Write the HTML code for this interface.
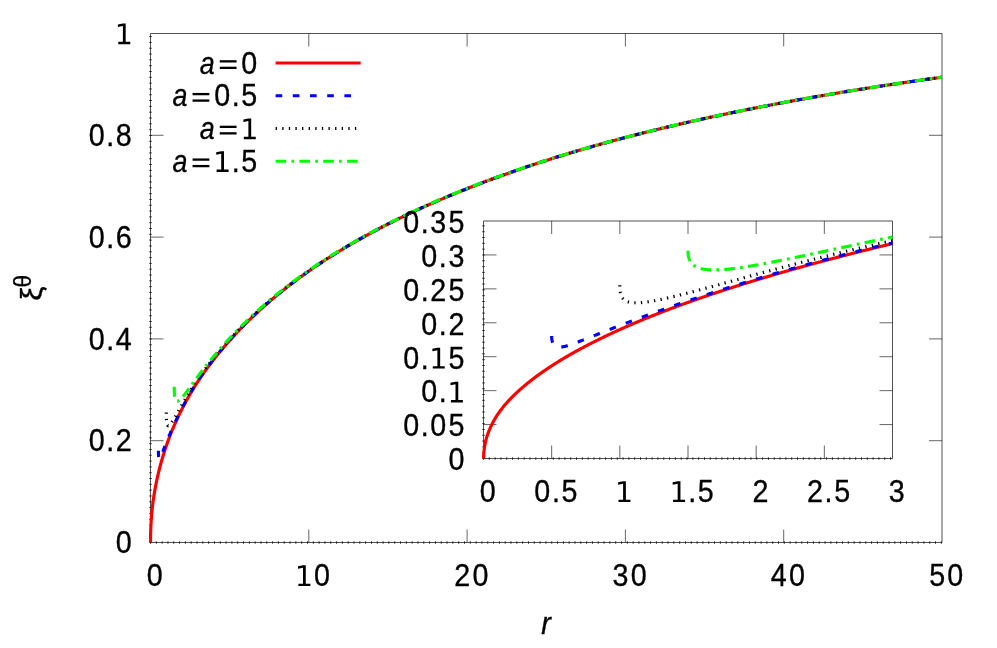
<!DOCTYPE html>
<html><head><meta charset="utf-8"><title>plot</title>
<style>html,body{margin:0;padding:0;background:#fff;}body{width:997px;height:648px;overflow:hidden;font-family:"Liberation Sans",sans-serif;}svg{display:block}</style>
</head><body>
<svg width="997" height="648" viewBox="0 0 997 648">
<rect width="997" height="648" fill="#fff"/>
<path d="M150.5,33.5 L942.0,33.5 L942.0,542.5 L150.5,542.5 Z" fill="none" stroke="#000" stroke-width="1" opacity="0.68"/>
<path d="M308.80,542.5 v-13 M308.80,33.5 v13 M467.10,542.5 v-13 M467.10,33.5 v13 M625.40,542.5 v-13 M625.40,33.5 v13 M783.70,542.5 v-13 M783.70,33.5 v13 M150.5,440.70 h13 M942.0,440.70 h-13 M150.5,338.90 h13 M942.0,338.90 h-13 M150.5,237.10 h13 M942.0,237.10 h-13 M150.5,135.30 h13 M942.0,135.30 h-13 " stroke="#000" stroke-width="1" fill="none" opacity="0.6"/>
<path d="M150.50,541.1 v2.8 M156.31,541.1 v2.8 M162.13,541.1 v2.8 M167.94,541.1 v2.8 M173.76,541.1 v2.8 M179.57,541.1 v2.8 M185.39,541.1 v2.8 M191.20,541.1 v2.8 M197.02,541.1 v2.8 M202.83,541.1 v2.8 M208.65,541.1 v2.8 M214.46,541.1 v2.8 M220.28,541.1 v2.8 M226.09,541.1 v2.8 M231.91,541.1 v2.8 M237.72,541.1 v2.8 M243.54,541.1 v2.8 M249.35,541.1 v2.8 M255.17,541.1 v2.8 M260.98,541.1 v2.8 M266.80,541.1 v2.8 M272.61,541.1 v2.8 M278.43,541.1 v2.8 M284.24,541.1 v2.8 M290.06,541.1 v2.8 M295.87,541.1 v2.8 M301.69,541.1 v2.8 M307.50,541.1 v2.8 M313.32,541.1 v2.8 M319.13,541.1 v2.8 M324.95,541.1 v2.8 M330.76,541.1 v2.8 M336.58,541.1 v2.8 M342.39,541.1 v2.8 M348.21,541.1 v2.8 M354.02,541.1 v2.8 M359.84,541.1 v2.8 M365.65,541.1 v2.8 M371.47,541.1 v2.8 M377.28,541.1 v2.8 M383.10,541.1 v2.8 M388.91,541.1 v2.8 M394.73,541.1 v2.8 M400.54,541.1 v2.8 M406.36,541.1 v2.8 M412.17,541.1 v2.8 M417.99,541.1 v2.8 M423.80,541.1 v2.8 M429.62,541.1 v2.8 M435.43,541.1 v2.8 M441.25,541.1 v2.8 M447.06,541.1 v2.8 M452.88,541.1 v2.8 M458.69,541.1 v2.8 M464.51,541.1 v2.8 M470.32,541.1 v2.8 M476.14,541.1 v2.8 M481.95,541.1 v2.8 M487.77,541.1 v2.8 M493.58,541.1 v2.8 M499.40,541.1 v2.8 M505.21,541.1 v2.8 M511.03,541.1 v2.8 M516.84,541.1 v2.8 M522.66,541.1 v2.8 M528.48,541.1 v2.8 M534.29,541.1 v2.8 M540.11,541.1 v2.8 M545.92,541.1 v2.8 M551.74,541.1 v2.8 M557.55,541.1 v2.8 M563.37,541.1 v2.8 M569.18,541.1 v2.8 M575.00,541.1 v2.8 M580.81,541.1 v2.8 M586.63,541.1 v2.8 M592.44,541.1 v2.8 M598.26,541.1 v2.8 M604.07,541.1 v2.8 M609.89,541.1 v2.8 M615.70,541.1 v2.8 M621.52,541.1 v2.8 M627.33,541.1 v2.8 M633.15,541.1 v2.8 M638.96,541.1 v2.8 M644.78,541.1 v2.8 M650.59,541.1 v2.8 M656.41,541.1 v2.8 M662.22,541.1 v2.8 M668.04,541.1 v2.8 M673.85,541.1 v2.8 M679.67,541.1 v2.8 M685.48,541.1 v2.8 M691.30,541.1 v2.8 M697.11,541.1 v2.8 M702.93,541.1 v2.8 M708.74,541.1 v2.8 M714.56,541.1 v2.8 M720.37,541.1 v2.8 M726.19,541.1 v2.8 M732.00,541.1 v2.8 M737.82,541.1 v2.8 M743.63,541.1 v2.8 M749.45,541.1 v2.8 M755.26,541.1 v2.8 M761.08,541.1 v2.8 M766.89,541.1 v2.8 M772.71,541.1 v2.8 M778.52,541.1 v2.8 M784.34,541.1 v2.8 M790.15,541.1 v2.8 M795.97,541.1 v2.8 M801.78,541.1 v2.8 M807.60,541.1 v2.8 M813.41,541.1 v2.8 M819.23,541.1 v2.8 M825.04,541.1 v2.8 M830.86,541.1 v2.8 M836.67,541.1 v2.8 M842.49,541.1 v2.8 M848.30,541.1 v2.8 M854.12,541.1 v2.8 M859.93,541.1 v2.8 M865.75,541.1 v2.8 M871.56,541.1 v2.8 M877.38,541.1 v2.8 M883.19,541.1 v2.8 M889.01,541.1 v2.8 M894.82,541.1 v2.8 M900.64,541.1 v2.8 M906.45,541.1 v2.8 M912.27,541.1 v2.8 M918.08,541.1 v2.8 M923.90,541.1 v2.8 M929.71,541.1 v2.8 M935.53,541.1 v2.8 M941.34,541.1 v2.8 M149.1,542.50 h2.8 M149.1,536.68 h2.8 M149.1,530.87 h2.8 M149.1,525.05 h2.8 M149.1,519.24 h2.8 M149.1,513.42 h2.8 M149.1,507.61 h2.8 M149.1,501.79 h2.8 M149.1,495.98 h2.8 M149.1,490.16 h2.8 M149.1,484.35 h2.8 M149.1,478.53 h2.8 M149.1,472.72 h2.8 M149.1,466.90 h2.8 M149.1,461.09 h2.8 M149.1,455.27 h2.8 M149.1,449.46 h2.8 M149.1,443.64 h2.8 M149.1,437.83 h2.8 M149.1,432.01 h2.8 M149.1,426.20 h2.8 M149.1,420.38 h2.8 M149.1,414.57 h2.8 M149.1,408.75 h2.8 M149.1,402.94 h2.8 M149.1,397.12 h2.8 M149.1,391.31 h2.8 M149.1,385.49 h2.8 M149.1,379.68 h2.8 M149.1,373.86 h2.8 M149.1,368.05 h2.8 M149.1,362.23 h2.8 M149.1,356.42 h2.8 M149.1,350.60 h2.8 M149.1,344.79 h2.8 M149.1,338.97 h2.8 M149.1,333.16 h2.8 M149.1,327.34 h2.8 M149.1,321.53 h2.8 M149.1,315.71 h2.8 M149.1,309.90 h2.8 M149.1,304.08 h2.8 M149.1,298.27 h2.8 M149.1,292.45 h2.8 M149.1,286.64 h2.8 M149.1,280.82 h2.8 M149.1,275.01 h2.8 M149.1,269.19 h2.8 M149.1,263.38 h2.8 M149.1,257.56 h2.8 M149.1,251.75 h2.8 M149.1,245.93 h2.8 M149.1,240.12 h2.8 M149.1,234.30 h2.8 M149.1,228.49 h2.8 M149.1,222.67 h2.8 M149.1,216.86 h2.8 M149.1,211.04 h2.8 M149.1,205.23 h2.8 M149.1,199.41 h2.8 M149.1,193.60 h2.8 M149.1,187.78 h2.8 M149.1,181.97 h2.8 M149.1,176.15 h2.8 M149.1,170.34 h2.8 M149.1,164.52 h2.8 M149.1,158.71 h2.8 M149.1,152.89 h2.8 M149.1,147.08 h2.8 M149.1,141.26 h2.8 M149.1,135.45 h2.8 M149.1,129.63 h2.8 M149.1,123.82 h2.8 M149.1,118.00 h2.8 M149.1,112.19 h2.8 M149.1,106.37 h2.8 M149.1,100.56 h2.8 M149.1,94.74 h2.8 M149.1,88.93 h2.8 M149.1,83.11 h2.8 M149.1,77.30 h2.8 M149.1,71.48 h2.8 M149.1,65.67 h2.8 M149.1,59.85 h2.8 M149.1,54.04 h2.8 M149.1,48.22 h2.8 M149.1,42.41 h2.8 M149.1,36.59 h2.8 " stroke="#000" stroke-width="1" fill="none" opacity="0.68"/>
<g font-family="Liberation Sans, sans-serif" fill="#000" stroke="#000" stroke-width="0.35" style="filter:grayscale(1)">
<text transform="translate(115.87,553.20) scale(0.94,1)" font-size="30.5">0</text>
<text transform="translate(88.68,451.40) scale(0.94,1)" font-size="30.5">0</text><text transform="translate(106.26,451.40) scale(0.94,1)" font-size="30.5">.</text><text transform="translate(115.87,451.40) scale(0.94,1)" font-size="30.5">2</text>
<text transform="translate(88.68,349.60) scale(0.94,1)" font-size="30.5">0</text><text transform="translate(106.26,349.60) scale(0.94,1)" font-size="30.5">.</text><text transform="translate(115.87,349.60) scale(0.94,1)" font-size="30.5">4</text>
<text transform="translate(88.68,247.80) scale(0.94,1)" font-size="30.5">0</text><text transform="translate(106.26,247.80) scale(0.94,1)" font-size="30.5">.</text><text transform="translate(115.87,247.80) scale(0.94,1)" font-size="30.5">6</text>
<text transform="translate(88.68,146.00) scale(0.94,1)" font-size="30.5">0</text><text transform="translate(106.26,146.00) scale(0.94,1)" font-size="30.5">.</text><text transform="translate(115.87,146.00) scale(0.94,1)" font-size="30.5">8</text>
<path transform="translate(114.77,44.20) scale(0.01392,-0.01392)" d="M254 170h330v1139l-359 -72v184l357 72h202v-1323h330v-170h-860v170z" stroke="none"/>
<text transform="translate(146.73,586.00) scale(0.94,1)" font-size="30.5">0</text>
<path transform="translate(294.87,586.00) scale(0.01392,-0.01392)" d="M254 170h330v1139l-359 -72v184l357 72h202v-1323h330v-170h-860v170z" stroke="none"/><text transform="translate(314.09,586.00) scale(0.94,1)" font-size="30.5">0</text>
<text transform="translate(454.27,586.00) scale(0.94,1)" font-size="30.5">2</text><text transform="translate(472.39,586.00) scale(0.94,1)" font-size="30.5">0</text>
<text transform="translate(612.57,586.00) scale(0.94,1)" font-size="30.5">3</text><text transform="translate(630.69,586.00) scale(0.94,1)" font-size="30.5">0</text>
<text transform="translate(770.87,586.00) scale(0.94,1)" font-size="30.5">4</text><text transform="translate(788.99,586.00) scale(0.94,1)" font-size="30.5">0</text>
<text transform="translate(929.17,586.00) scale(0.94,1)" font-size="30.5">5</text><text transform="translate(947.29,586.00) scale(0.94,1)" font-size="30.5">0</text>
<text transform="translate(547.00,634.00) scale(0.94,1)" text-anchor="middle" font-size="30.5" letter-spacing="2.33" font-style="italic">r</text>
</g>
<path d="M150.50,542.50 L150.51,541.74 L150.51,540.92 L150.52,540.04 L150.53,539.16 L150.54,538.28 L150.56,537.39 L150.57,536.52 L150.58,535.66 L150.60,534.81 L150.62,533.96 L150.64,533.13 L150.66,532.31 L150.69,531.50 L150.71,530.70 L150.74,529.91 L150.77,529.12 L150.80,528.35 L150.83,527.58 L150.86,526.82 L150.90,526.09 L150.93,525.36 L150.97,524.64 L151.01,523.92 L151.05,523.21 L151.09,522.49 L151.14,521.77 L151.18,521.05 L151.23,520.33 L151.28,519.60 L151.33,518.87 L151.38,518.14 L151.43,517.42 L151.49,516.70 L151.55,515.98 L151.60,515.27 L151.66,514.55 L151.73,513.85 L151.79,513.14 L151.85,512.43 L151.92,511.73 L151.99,511.03 L152.06,510.34 L152.13,509.64 L152.20,508.95 L152.27,508.26 L152.35,507.57 L152.43,506.88 L152.51,506.19 L152.59,505.50 L152.67,504.82 L152.75,504.14 L152.84,503.46 L152.93,502.78 L153.01,502.10 L153.10,501.42 L153.20,500.74 L153.29,500.07 L153.38,499.39 L153.48,498.72 L153.58,498.05 L153.68,497.38 L153.78,496.71 L153.88,496.04 L153.99,495.37 L154.09,494.70 L154.20,494.03 L154.31,493.37 L154.42,492.70 L154.53,492.03 L154.64,491.37 L154.76,490.71 L154.88,490.04 L154.99,489.38 L155.11,488.72 L155.24,488.06 L155.36,487.40 L155.48,486.73 L155.61,486.07 L155.74,485.41 L155.87,484.74 L156.00,484.08 L156.13,483.41 L156.27,482.75 L156.40,482.08 L156.54,481.42 L156.68,480.75 L156.82,480.09 L156.96,479.42 L157.11,478.76 L157.25,478.09 L157.40,477.42 L157.55,476.76 L157.70,476.09 L157.85,475.43 L158.00,474.76 L158.16,474.10 L158.32,473.43 L158.47,472.77 L158.63,472.10 L158.79,471.44 L158.96,470.78 L159.12,470.11 L159.29,469.45 L159.46,468.79 L159.62,468.13 L159.80,467.46 L159.97,466.80 L160.14,466.14 L160.32,465.48 L160.49,464.82 L160.67,464.16 L160.85,463.50 L161.04,462.84 L161.22,462.19 L161.40,461.53 L161.59,460.87 L161.78,460.22 L161.97,459.56 L162.16,458.90 L162.35,458.25 L162.55,457.60 L162.74,456.94 L162.94,456.29 L163.14,455.63 L163.34,454.98 L163.54,454.32 L163.75,453.67 L163.95,453.01 L164.16,452.36 L164.37,451.70 L164.58,451.05 L164.79,450.39 L165.01,449.74 L165.22,449.08 L165.44,448.43 L165.66,447.78 L165.88,447.12 L166.10,446.47 L166.32,445.82 L166.55,445.17 L166.77,444.52 L167.00,443.86 L167.23,443.21 L167.46,442.57 L167.69,441.92 L167.93,441.27 L168.16,440.62 L168.40,439.97 L168.64,439.33 L168.88,438.68 L169.12,438.03 L169.37,437.39 L169.61,436.75 L169.86,436.10 L170.11,435.46 L170.36,434.82 L170.61,434.18 L170.86,433.54 L171.12,432.90 L171.37,432.26 L171.63,431.62 L171.89,430.99 L172.15,430.35 L172.41,429.72 L172.68,429.08 L172.94,428.45 L173.21,427.82 L173.48,427.18 L173.75,426.55 L174.02,425.92 L174.30,425.29 L174.57,424.66 L174.85,424.02 L175.13,423.39 L175.41,422.76 L175.69,422.13 L175.97,421.51 L176.26,420.88 L176.54,420.25 L176.83,419.62 L177.12,418.99 L177.41,418.37 L177.70,417.74 L178.00,417.11 L178.30,416.49 L178.59,415.86 L178.89,415.24 L179.19,414.61 L179.49,413.99 L179.80,413.36 L180.10,412.74 L180.41,412.12 L180.72,411.50 L181.03,410.87 L181.34,410.25 L181.66,409.63 L181.97,409.01 L182.29,408.39 L182.60,407.77 L182.92,407.15 L183.25,406.54 L183.57,405.92 L183.89,405.30 L184.22,404.68 L184.55,404.07 L184.88,403.45 L185.21,402.84 L185.54,402.22 L185.87,401.61 L186.21,400.99 L186.55,400.38 L186.88,399.76 L187.23,399.15 L187.57,398.54 L187.91,397.93 L188.26,397.32 L188.60,396.71 L188.95,396.10 L189.30,395.49 L189.65,394.88 L190.00,394.27 L190.36,393.66 L190.72,393.05 L191.07,392.45 L191.43,391.84 L191.79,391.23 L192.16,390.63 L192.52,390.02 L192.89,389.42 L193.25,388.81 L193.62,388.21 L193.99,387.61 L194.36,387.01 L194.74,386.40 L195.11,385.80 L195.49,385.21 L195.87,384.61 L196.25,384.01 L196.63,383.42 L197.01,382.82 L197.40,382.23 L197.78,381.63 L198.17,381.04 L198.56,380.45 L198.95,379.86 L199.34,379.27 L199.74,378.68 L200.13,378.09 L200.53,377.51 L200.93,376.92 L201.33,376.33 L201.73,375.75 L202.14,375.16 L202.54,374.58 L202.95,374.00 L203.36,373.42 L203.77,372.83 L204.18,372.25 L204.59,371.67 L205.01,371.09 L205.42,370.51 L205.84,369.94 L206.26,369.36 L206.68,368.78 L207.10,368.20 L207.53,367.63 L207.95,367.05 L208.38,366.48 L208.81,365.90 L209.24,365.33 L209.67,364.75 L210.11,364.18 L210.54,363.61 L210.98,363.03 L211.42,362.46 L211.86,361.89 L212.30,361.32 L212.74,360.75 L213.19,360.18 L213.63,359.60 L214.08,359.03 L214.53,358.46 L214.98,357.90 L215.44,357.33 L215.89,356.76 L216.35,356.19 L216.80,355.62 L217.26,355.05 L217.72,354.49 L218.19,353.92 L218.65,353.35 L219.12,352.78 L219.58,352.22 L220.05,351.65 L220.52,351.09 L220.99,350.52 L221.47,349.95 L221.94,349.39 L222.42,348.82 L222.90,348.26 L223.38,347.69 L223.86,347.13 L224.34,346.56 L224.82,346.00 L225.31,345.44 L225.80,344.87 L226.29,344.31 L226.78,343.75 L227.27,343.18 L227.76,342.62 L228.26,342.06 L228.76,341.49 L229.26,340.93 L229.76,340.37 L230.26,339.81 L230.76,339.24 L231.27,338.68 L231.77,338.12 L232.28,337.56 L232.79,337.00 L233.30,336.44 L233.82,335.88 L234.33,335.33 L234.85,334.77 L235.36,334.21 L235.88,333.65 L236.40,333.10 L236.93,332.54 L237.45,331.99 L237.98,331.43 L238.50,330.88 L239.03,330.32 L239.56,329.77 L240.09,329.22 L240.63,328.67 L241.16,328.11 L241.70,327.56 L242.24,327.01 L242.78,326.46 L243.32,325.91 L243.86,325.36 L244.41,324.81 L244.95,324.26 L245.50,323.72 L246.05,323.17 L246.60,322.62 L247.15,322.07 L247.71,321.53 L248.26,320.98 L248.82,320.44 L249.38,319.89 L249.94,319.35 L250.50,318.81 L251.07,318.26 L251.63,317.72 L252.20,317.18 L252.77,316.64 L253.34,316.10 L253.91,315.56 L254.48,315.02 L255.06,314.48 L255.63,313.94 L256.21,313.40 L256.79,312.86 L257.37,312.32 L257.95,311.79 L258.54,311.25 L259.12,310.71 L259.71,310.18 L260.30,309.64 L260.89,309.11 L261.48,308.57 L262.08,308.04 L262.67,307.51 L263.27,306.97 L263.87,306.44 L264.47,305.91 L265.07,305.38 L265.67,304.85 L266.28,304.32 L266.88,303.79 L267.49,303.26 L268.10,302.73 L268.71,302.20 L269.33,301.68 L269.94,301.15 L270.56,300.62 L271.17,300.10 L271.79,299.57 L272.41,299.05 L273.04,298.52 L273.66,298.00 L274.28,297.47 L274.91,296.95 L275.54,296.43 L276.17,295.91 L276.80,295.38 L277.44,294.86 L278.07,294.34 L278.71,293.82 L279.35,293.30 L279.99,292.78 L280.63,292.27 L281.27,291.75 L281.91,291.23 L282.56,290.71 L283.21,290.20 L283.86,289.68 L284.51,289.17 L285.16,288.65 L285.81,288.14 L286.47,287.63 L287.13,287.11 L287.78,286.60 L288.45,286.09 L289.11,285.58 L289.77,285.07 L290.44,284.56 L291.10,284.05 L291.77,283.54 L292.44,283.03 L293.11,282.52 L293.78,282.01 L294.46,281.50 L295.14,281.00 L295.81,280.49 L296.49,279.99 L297.17,279.48 L297.86,278.98 L298.54,278.47 L299.23,277.97 L299.91,277.47 L300.60,276.97 L301.29,276.46 L301.98,275.96 L302.68,275.46 L303.37,274.96 L304.07,274.46 L304.77,273.96 L305.47,273.47 L306.17,272.97 L306.87,272.47 L307.58,271.97 L308.28,271.48 L308.99,270.98 L309.70,270.49 L310.41,269.99 L311.12,269.50 L311.84,269.00 L312.55,268.51 L313.27,268.02 L313.99,267.53 L314.71,267.04 L315.43,266.54 L316.16,266.05 L316.88,265.56 L317.61,265.08 L318.34,264.59 L319.07,264.10 L319.80,263.61 L320.53,263.12 L321.27,262.64 L322.00,262.15 L322.74,261.67 L323.48,261.18 L324.22,260.70 L324.96,260.21 L325.71,259.73 L326.45,259.25 L327.20,258.77 L327.95,258.28 L328.70,257.80 L329.45,257.32 L330.21,256.84 L330.96,256.36 L331.72,255.89 L332.48,255.41 L333.24,254.93 L334.00,254.45 L334.76,253.98 L335.27,253.66 L335.78,253.34 L336.29,253.02 L336.80,252.71 L337.32,252.39 L337.83,252.07 L338.34,251.76 L338.86,251.44 L339.37,251.13 L339.89,250.81 L340.41,250.50 L340.92,250.18 L341.44,249.87 L341.96,249.55 L342.48,249.24 L343.00,248.93 L343.52,248.61 L344.04,248.30 L344.57,247.99 L345.09,247.67 L345.61,247.36 L346.14,247.05 L346.66,246.74 L347.19,246.42 L347.72,246.11 L348.24,245.80 L348.77,245.49 L349.30,245.18 L349.83,244.87 L350.36,244.56 L350.89,244.25 L351.42,243.94 L351.95,243.63 L352.49,243.32 L353.02,243.01 L353.55,242.70 L354.09,242.39 L354.63,242.09 L355.16,241.78 L355.70,241.47 L356.24,241.16 L356.78,240.85 L357.32,240.55 L357.86,240.24 L358.40,239.93 L358.94,239.63 L359.48,239.32 L360.02,239.01 L360.57,238.71 L361.11,238.40 L361.65,238.10 L362.20,237.79 L362.75,237.49 L363.29,237.18 L363.84,236.88 L364.39,236.58 L364.94,236.27 L365.49,235.97 L366.04,235.66 L366.59,235.36 L367.14,235.06 L367.70,234.76 L368.25,234.45 L368.80,234.15 L369.36,233.85 L369.91,233.55 L370.47,233.25 L371.03,232.95 L371.58,232.65 L372.14,232.34 L372.70,232.04 L373.26,231.74 L373.82,231.44 L374.38,231.15 L374.94,230.85 L375.51,230.55 L376.07,230.25 L376.63,229.95 L377.20,229.65 L377.76,229.35 L378.33,229.05 L378.90,228.76 L379.46,228.46 L380.03,228.16 L380.60,227.87 L381.17,227.57 L381.74,227.27 L382.31,226.98 L382.88,226.68 L383.46,226.38 L384.03,226.09 L384.60,225.79 L385.18,225.50 L385.75,225.20 L386.33,224.91 L386.90,224.61 L387.48,224.32 L388.06,224.03 L388.64,223.73 L389.22,223.44 L389.80,223.15 L390.38,222.85 L390.96,222.56 L391.54,222.27 L392.13,221.98 L392.71,221.69 L393.29,221.39 L393.88,221.10 L394.46,220.81 L395.05,220.52 L395.64,220.23 L396.23,219.94 L396.81,219.65 L397.40,219.36 L397.99,219.07 L398.58,218.78 L399.18,218.49 L399.77,218.20 L400.36,217.91 L400.95,217.63 L401.55,217.34 L402.14,217.05 L402.74,216.76 L403.34,216.47 L403.93,216.19 L404.53,215.90 L405.13,215.61 L405.73,215.33 L406.33,215.04 L406.93,214.75 L407.53,214.47 L408.13,214.18 L408.73,213.90 L409.34,213.61 L409.94,213.33 L410.55,213.04 L411.15,212.76 L411.76,212.47 L412.36,212.19 L412.97,211.91 L413.58,211.62 L414.19,211.34 L414.80,211.06 L415.41,210.78 L416.02,210.49 L416.63,210.21 L417.24,209.93 L417.86,209.65 L418.47,209.37 L419.09,209.08 L419.70,208.80 L420.32,208.52 L420.93,208.24 L421.55,207.96 L422.17,207.68 L422.79,207.40 L423.41,207.12 L424.03,206.84 L424.65,206.56 L425.27,206.29 L425.89,206.01 L426.52,205.73 L427.14,205.45 L427.76,205.17 L428.39,204.90 L429.02,204.62 L429.64,204.34 L430.27,204.06 L430.90,203.79 L431.53,203.51 L432.16,203.23 L432.79,202.96 L433.42,202.68 L434.05,202.41 L434.68,202.13 L435.31,201.86 L435.95,201.58 L436.58,201.31 L437.22,201.03 L437.85,200.76 L438.49,200.49 L439.13,200.21 L439.76,199.94 L440.40,199.67 L441.04,199.39 L441.68,199.12 L442.32,198.85 L442.96,198.57 L443.61,198.30 L444.25,198.03 L444.89,197.76 L445.54,197.49 L446.18,197.21 L446.83,196.94 L447.47,196.67 L448.12,196.40 L448.77,196.13 L449.42,195.86 L450.06,195.59 L450.71,195.32 L451.37,195.05 L452.02,194.78 L452.67,194.51 L453.32,194.24 L453.97,193.97 L454.63,193.70 L455.28,193.43 L455.94,193.16 L456.59,192.90 L457.25,192.63 L457.91,192.36 L458.57,192.09 L459.23,191.83 L459.89,191.56 L460.55,191.29 L461.21,191.02 L461.87,190.76 L462.53,190.49 L463.19,190.23 L463.86,189.96 L464.52,189.69 L465.19,189.43 L465.85,189.16 L466.52,188.90 L467.19,188.63 L467.86,188.37 L468.53,188.10 L469.20,187.84 L469.87,187.57 L470.54,187.31 L471.21,187.05 L471.88,186.78 L472.55,186.52 L473.23,186.26 L473.90,186.00 L474.58,185.73 L475.25,185.47 L475.93,185.21 L476.61,184.95 L477.28,184.68 L477.96,184.42 L478.64,184.16 L479.32,183.90 L480.00,183.64 L480.68,183.38 L481.37,183.12 L482.05,182.86 L482.73,182.60 L483.42,182.34 L484.10,182.08 L484.79,181.82 L485.48,181.56 L486.16,181.30 L486.85,181.04 L487.54,180.79 L488.23,180.53 L488.92,180.27 L489.61,180.01 L490.30,179.76 L490.99,179.50 L491.68,179.24 L492.38,178.98 L493.07,178.73 L493.77,178.47 L494.46,178.22 L495.16,177.96 L495.86,177.70 L496.55,177.45 L497.25,177.19 L497.95,176.94 L498.65,176.68 L499.35,176.43 L500.05,176.18 L500.75,175.92 L501.46,175.67 L502.16,175.41 L502.86,175.16 L503.57,174.91 L504.27,174.65 L504.98,174.40 L505.69,174.15 L506.40,173.90 L507.10,173.65 L507.81,173.39 L508.52,173.14 L509.23,172.89 L509.94,172.64 L510.66,172.39 L511.37,172.14 L512.08,171.89 L512.79,171.64 L513.51,171.39 L514.22,171.14 L514.94,170.89 L515.66,170.64 L516.37,170.39 L517.09,170.14 L517.81,169.89 L518.53,169.65 L519.25,169.40 L519.97,169.15 L520.69,168.90 L521.42,168.66 L522.14,168.41 L522.86,168.16 L523.59,167.92 L524.31,167.67 L525.04,167.42 L525.77,167.18 L526.49,166.93 L527.22,166.69 L527.95,166.44 L528.68,166.20 L529.41,165.95 L530.14,165.71 L530.87,165.46 L531.60,165.22 L532.34,164.98 L533.07,164.73 L533.80,164.49 L534.54,164.25 L535.27,164.00 L536.01,163.76 L536.75,163.52 L537.49,163.28 L538.22,163.04 L538.96,162.79 L539.70,162.55 L540.44,162.31 L541.19,162.07 L541.93,161.83 L542.67,161.59 L543.41,161.35 L544.16,161.11 L544.90,160.87 L545.65,160.63 L546.39,160.39 L547.14,160.15 L547.89,159.92 L548.64,159.68 L549.39,159.44 L550.14,159.20 L550.89,158.96 L551.64,158.73 L552.39,158.49 L553.14,158.25 L553.90,158.02 L554.65,157.78 L555.40,157.54 L556.16,157.31 L556.92,157.07 L557.67,156.84 L558.43,156.60 L559.19,156.37 L559.95,156.13 L560.71,155.90 L561.47,155.66 L562.23,155.43 L562.99,155.20 L563.75,154.96 L564.52,154.73 L565.28,154.50 L566.04,154.26 L566.81,154.03 L567.58,153.80 L568.34,153.57 L569.11,153.33 L569.88,153.10 L570.65,152.87 L571.42,152.64 L572.19,152.41 L572.96,152.18 L573.73,151.95 L574.50,151.72 L575.27,151.49 L576.05,151.26 L576.82,151.03 L577.60,150.80 L578.37,150.57 L579.15,150.34 L579.93,150.12 L580.71,149.89 L581.48,149.66 L582.26,149.43 L583.04,149.21 L583.82,148.98 L584.61,148.75 L585.39,148.53 L586.17,148.30 L586.95,148.07 L587.74,147.85 L588.52,147.62 L589.31,147.40 L590.10,147.17 L590.88,146.95 L591.67,146.72 L592.46,146.50 L593.25,146.27 L594.04,146.05 L594.83,145.83 L595.62,145.60 L596.41,145.38 L597.20,145.16 L598.00,144.93 L598.79,144.71 L599.59,144.49 L600.38,144.27 L601.18,144.05 L601.98,143.83 L602.77,143.60 L603.57,143.38 L604.37,143.16 L605.17,142.94 L605.97,142.72 L606.77,142.50 L607.57,142.28 L608.38,142.06 L609.18,141.84 L609.98,141.63 L610.79,141.41 L611.59,141.19 L612.40,140.97 L613.21,140.75 L614.01,140.54 L614.82,140.32 L615.63,140.10 L616.44,139.88 L617.25,139.67 L618.06,139.45 L618.87,139.24 L619.69,139.02 L620.50,138.80 L621.31,138.59 L622.13,138.37 L622.94,138.16 L623.76,137.94 L624.58,137.73 L625.39,137.52 L626.21,137.30 L627.03,137.09 L627.85,136.88 L628.67,136.66 L629.49,136.45 L630.31,136.24 L631.14,136.02 L631.96,135.81 L632.78,135.60 L633.61,135.39 L634.43,135.18 L635.26,134.96 L636.08,134.75 L636.91,134.54 L637.74,134.33 L638.57,134.12 L639.40,133.91 L640.23,133.70 L641.06,133.49 L641.89,133.28 L642.72,133.07 L643.55,132.86 L644.39,132.65 L645.22,132.44 L646.06,132.24 L646.89,132.03 L647.73,131.82 L648.57,131.61 L649.40,131.40 L650.24,131.20 L651.08,130.99 L651.92,130.78 L652.76,130.58 L653.60,130.37 L654.45,130.16 L655.29,129.96 L656.13,129.75 L656.98,129.54 L657.82,129.34 L658.67,129.13 L659.51,128.93 L660.36,128.72 L661.21,128.52 L662.06,128.31 L662.90,128.11 L663.75,127.91 L664.60,127.70 L665.46,127.50 L666.31,127.30 L667.16,127.09 L668.01,126.89 L668.87,126.69 L669.72,126.48 L670.58,126.28 L671.43,126.08 L672.29,125.88 L673.15,125.68 L674.01,125.47 L674.86,125.27 L675.72,125.07 L676.58,124.87 L677.45,124.67 L678.31,124.47 L679.17,124.27 L680.03,124.07 L680.90,123.87 L681.76,123.67 L682.63,123.47 L683.49,123.27 L684.36,123.07 L685.23,122.88 L686.09,122.68 L686.96,122.48 L687.83,122.28 L688.70,122.08 L689.57,121.89 L690.45,121.69 L691.32,121.49 L692.19,121.29 L693.06,121.10 L693.94,120.90 L694.81,120.71 L695.69,120.51 L696.57,120.31 L697.44,120.12 L698.32,119.92 L699.20,119.73 L700.08,119.53 L700.96,119.34 L701.84,119.14 L702.72,118.95 L703.60,118.75 L704.49,118.56 L705.37,118.37 L706.25,118.17 L707.14,117.98 L708.03,117.79 L708.91,117.59 L709.80,117.40 L710.69,117.21 L711.57,117.02 L712.46,116.82 L713.35,116.63 L714.24,116.44 L715.14,116.25 L716.03,116.06 L716.92,115.87 L717.81,115.68 L718.71,115.49 L719.60,115.30 L720.50,115.11 L721.39,114.92 L722.29,114.73 L723.19,114.54 L724.09,114.35 L724.99,114.16 L725.89,113.97 L726.79,113.78 L727.69,113.59 L728.59,113.40 L729.49,113.22 L730.40,113.03 L731.30,112.84 L732.20,112.65 L733.11,112.47 L734.02,112.28 L734.92,112.09 L735.83,111.91 L736.74,111.72 L737.65,111.53 L738.56,111.35 L739.47,111.16 L740.38,110.98 L741.29,110.79 L742.20,110.61 L743.12,110.42 L744.03,110.24 L744.94,110.05 L745.86,109.87 L746.77,109.68 L747.69,109.50 L748.61,109.32 L749.53,109.13 L750.45,108.95 L751.36,108.77 L752.29,108.58 L753.21,108.40 L754.13,108.22 L755.05,108.04 L755.97,107.85 L756.90,107.67 L757.82,107.49 L758.75,107.31 L759.67,107.13 L760.60,106.95 L761.53,106.77 L762.45,106.59 L763.38,106.41 L764.31,106.23 L765.24,106.05 L766.17,105.87 L767.10,105.69 L768.04,105.51 L768.97,105.33 L769.90,105.15 L770.84,104.97 L771.77,104.79 L772.71,104.61 L773.64,104.44 L774.58,104.26 L775.52,104.08 L776.46,103.90 L777.40,103.73 L778.34,103.55 L779.28,103.37 L780.22,103.19 L781.16,103.02 L782.10,102.84 L783.05,102.67 L783.99,102.49 L784.93,102.31 L785.88,102.14 L786.83,101.96 L787.77,101.79 L788.72,101.61 L789.67,101.44 L790.62,101.27 L791.57,101.09 L792.52,100.92 L793.47,100.74 L794.42,100.57 L795.37,100.40 L796.33,100.22 L797.28,100.05 L798.24,99.88 L799.19,99.71 L800.15,99.53 L801.10,99.36 L802.06,99.19 L803.02,99.02 L803.98,98.85 L804.94,98.67 L805.90,98.50 L806.86,98.33 L807.82,98.16 L808.78,97.99 L809.75,97.82 L810.71,97.65 L811.67,97.48 L812.64,97.31 L813.61,97.14 L814.57,96.97 L815.54,96.80 L816.51,96.63 L817.48,96.47 L818.45,96.30 L819.42,96.13 L820.39,95.96 L821.36,95.79 L822.33,95.62 L823.30,95.46 L824.28,95.29 L825.25,95.12 L826.23,94.96 L827.20,94.79 L828.18,94.62 L829.16,94.46 L830.13,94.29 L831.11,94.12 L832.09,93.96 L833.07,93.79 L834.05,93.63 L835.03,93.46 L836.02,93.30 L837.00,93.13 L837.98,92.97 L838.97,92.80 L839.95,92.64 L840.94,92.48 L841.92,92.31 L842.91,92.15 L843.90,91.99 L844.89,91.82 L845.88,91.66 L846.87,91.50 L847.86,91.33 L848.85,91.17 L849.84,91.01 L850.83,90.85 L851.83,90.69 L852.82,90.52 L853.81,90.36 L854.81,90.20 L855.81,90.04 L856.80,89.88 L857.80,89.72 L858.80,89.56 L859.80,89.40 L860.80,89.24 L861.80,89.08 L862.80,88.92 L863.80,88.76 L864.80,88.60 L865.81,88.44 L866.81,88.28 L867.82,88.13 L868.82,87.97 L869.83,87.81 L870.83,87.65 L871.84,87.49 L872.85,87.33 L873.86,87.18 L874.87,87.02 L875.88,86.86 L876.89,86.71 L877.90,86.55 L878.91,86.39 L879.93,86.24 L880.94,86.08 L881.95,85.93 L882.97,85.77 L883.99,85.61 L885.00,85.46 L886.02,85.30 L887.04,85.15 L888.06,84.99 L889.08,84.84 L890.10,84.69 L891.12,84.53 L892.14,84.38 L893.16,84.22 L894.18,84.07 L895.21,83.92 L896.23,83.76 L897.26,83.61 L898.28,83.46 L899.31,83.30 L900.34,83.15 L901.36,83.00 L902.39,82.85 L903.42,82.70 L904.45,82.54 L905.48,82.39 L906.51,82.24 L907.55,82.09 L908.58,81.94 L909.61,81.79 L910.65,81.64 L911.68,81.49 L912.72,81.34 L913.75,81.19 L914.79,81.04 L915.83,80.89 L916.87,80.74 L917.91,80.59 L918.95,80.44 L919.99,80.29 L921.03,80.14 L922.07,80.00 L923.11,79.85 L924.16,79.70 L925.20,79.55 L926.24,79.40 L927.29,79.26 L928.34,79.11 L929.38,78.96 L930.43,78.82 L931.48,78.67 L932.53,78.52 L933.58,78.38 L934.63,78.23 L935.68,78.08 L936.73,77.94 L937.78,77.79 L938.84,77.65 L939.89,77.50 L940.94,77.36 L942.00,77.21" stroke="#ff0000" stroke-width="3.15" fill="none" stroke-linejoin="round"/>
<path d="M158.41,450.66 L158.42,451.26 L158.42,452.00 L158.43,452.72 L158.45,453.40 L158.47,454.06 L158.49,454.68 L158.52,455.37 L158.56,456.00 L158.62,456.65 L158.69,457.30 L158.78,457.89 L158.95,458.51 L159.36,458.94 L159.84,458.54 L160.17,458.01 L160.45,457.46 L160.73,456.86 L160.99,456.26 L161.24,455.68 L161.49,455.05 L161.73,454.47 L161.97,453.86 L162.22,453.23 L162.44,452.66 L162.67,452.08 L162.90,451.48 L163.14,450.86 L163.39,450.23 L163.64,449.57 L163.90,448.91 L164.12,448.34 L164.35,447.76 L164.58,447.18 L164.81,446.58 L165.05,445.98 L165.29,445.36 L165.54,444.74 L165.79,444.11 L166.05,443.47 L166.31,442.82 L166.57,442.16 L166.84,441.50 L167.11,440.83 L167.39,440.15 L167.67,439.46 L167.90,438.90 L168.13,438.34 L168.37,437.77 L168.61,437.20 L168.85,436.63 L169.09,436.05 L169.33,435.47 L169.58,434.88 L169.83,434.29 L170.09,433.69 L170.34,433.09 L170.60,432.49 L170.86,431.88 L171.13,431.27 L171.40,430.66 L171.67,430.04 L171.94,429.42 L172.22,428.79 L172.49,428.16 L172.78,427.53 L173.06,426.90 L173.35,426.26 L173.64,425.62 L173.93,424.97 L174.23,424.32 L174.52,423.67 L174.83,423.01 L175.13,422.35 L175.44,421.69 L175.75,421.03 L176.06,420.36 L176.37,419.69 L176.69,419.02 L177.01,418.35 L177.33,417.67 L177.66,416.99 L177.99,416.31 L178.32,415.62 L178.66,414.94 L178.99,414.25 L179.33,413.56 L179.68,412.87 L180.02,412.17 L180.37,411.48 L180.72,410.78 L181.08,410.08 L181.43,409.38 L181.79,408.67 L182.15,407.97 L182.52,407.26 L182.89,406.56 L183.26,405.85 L183.54,405.32 L183.82,404.78 L184.10,404.25 L184.39,403.72 L184.67,403.18 L184.96,402.64 L185.25,402.11 L185.54,401.57 L185.83,401.03 L186.13,400.50 L186.42,399.96 L186.72,399.42 L187.02,398.88 L187.32,398.34 L187.62,397.80 L187.93,397.26 L188.23,396.72 L188.54,396.18 L188.85,395.64 L189.16,395.10 L189.47,394.56 L189.78,394.02 L190.09,393.48 L190.41,392.94 L190.73,392.39 L191.05,391.85 L191.37,391.31 L191.69,390.77 L192.01,390.23 L192.34,389.69 L192.67,389.15 L192.99,388.61 L193.32,388.07 L193.66,387.53 L193.99,387.00 L194.32,386.46 L194.66,385.92 L195.00,385.39 L195.34,384.86 L195.68,384.32 L196.02,383.79 L196.37,383.26 L196.71,382.73 L197.06,382.21 L197.41,381.68 L197.76,381.16 L198.11,380.63 L198.46,380.10 L198.82,379.57 L199.18,379.04 L199.53,378.51 L199.89,377.97 L200.26,377.44 L200.62,376.91 L200.98,376.38 L201.35,375.85 L201.72,375.32 L202.09,374.79 L202.46,374.27 L202.83,373.74 L203.20,373.21 L203.58,372.68 L203.96,372.15 L204.34,371.62 L204.72,371.09 L205.10,370.56 L205.48,370.03 L205.87,369.51 L206.25,368.98 L206.64,368.45 L207.03,367.92 L207.42,367.39 L207.81,366.87 L208.21,366.34 L208.60,365.81 L209.00,365.28 L209.40,364.76 L209.80,364.23 L210.20,363.70 L210.61,363.17 L211.01,362.65 L211.42,362.12 L211.83,361.59 L212.24,361.06 L212.65,360.54 L213.06,360.01 L213.48,359.48 L213.90,358.95 L214.31,358.43 L214.73,357.90 L215.15,357.37 L215.58,356.84 L216.00,356.32 L216.43,355.79 L216.85,355.26 L217.28,354.74 L217.71,354.21 L218.15,353.68 L218.58,353.15 L219.01,352.63 L219.45,352.10 L219.89,351.57 L220.33,351.04 L220.77,350.52 L221.21,349.99 L221.66,349.46 L222.10,348.93 L222.55,348.41 L223.00,347.88 L223.45,347.35 L223.90,346.82 L224.36,346.29 L224.81,345.77 L225.27,345.24 L225.73,344.71 L226.19,344.18 L226.65,343.65 L227.12,343.12 L227.58,342.60 L228.05,342.07 L228.52,341.54 L228.98,341.01 L229.46,340.48 L229.93,339.95 L230.40,339.42 L230.88,338.90 L231.36,338.37 L231.84,337.84 L232.32,337.31 L232.80,336.78 L233.28,336.26 L233.77,335.73 L234.25,335.20 L234.74,334.68 L235.23,334.15 L235.72,333.63 L236.22,333.10 L236.71,332.57 L237.21,332.05 L237.71,331.52 L238.21,331.00 L238.71,330.48 L239.21,329.95 L239.71,329.43 L240.22,328.90 L240.73,328.38 L241.24,327.86 L241.75,327.34 L242.26,326.81 L242.77,326.29 L243.29,325.77 L243.80,325.25 L244.32,324.73 L244.84,324.21 L245.36,323.69 L245.89,323.17 L246.41,322.65 L246.94,322.13 L247.47,321.61 L247.99,321.09 L248.53,320.57 L249.06,320.05 L249.59,319.53 L250.13,319.01 L250.66,318.50 L251.20,317.98 L251.74,317.46 L252.29,316.95 L252.83,316.43 L253.37,315.91 L253.92,315.40 L254.47,314.88 L255.02,314.37 L255.57,313.85 L256.12,313.34 L256.68,312.83 L257.23,312.31 L257.79,311.80 L258.35,311.29 L258.91,310.77 L259.47,310.26 L260.04,309.75 L260.60,309.24 L261.17,308.73 L261.74,308.22 L262.31,307.71 L262.88,307.20 L263.45,306.69 L264.03,306.18 L264.60,305.67 L265.18,305.16 L265.76,304.65 L266.34,304.14 L266.92,303.63 L267.51,303.13 L268.09,302.62 L268.68,302.11 L269.27,301.61 L269.86,301.10 L270.45,300.60 L271.05,300.09 L271.64,299.59 L272.24,299.08 L272.84,298.58 L273.43,298.07 L274.04,297.57 L274.64,297.07 L275.24,296.57 L275.85,296.06 L276.46,295.56 L277.07,295.06 L277.68,294.56 L278.29,294.06 L278.90,293.56 L279.52,293.06 L280.14,292.56 L280.76,292.06 L281.38,291.56 L282.00,291.07 L282.62,290.57 L283.25,290.07 L283.87,289.57 L284.50,289.08 L285.13,288.58 L285.76,288.09 L286.39,287.59 L287.03,287.10 L287.66,286.60 L288.30,286.11 L288.94,285.61 L289.58,285.12 L290.22,284.63 L290.87,284.14 L291.51,283.64 L292.16,283.15 L292.81,282.66 L293.46,282.17 L294.11,281.68 L294.76,281.19 L295.42,280.70 L296.07,280.21 L296.73,279.73 L297.39,279.24 L298.05,278.75 L298.71,278.26 L299.38,277.78 L300.04,277.29 L300.71,276.81 L301.38,276.32 L302.05,275.84 L302.72,275.35 L303.40,274.87 L304.07,274.38 L304.75,273.90 L305.43,273.42 L306.11,272.94 L306.79,272.45 L307.47,271.97 L308.16,271.49 L308.84,271.01 L309.53,270.53 L310.22,270.05 L310.91,269.57 L311.60,269.10 L312.30,268.62 L312.99,268.14 L313.69,267.66 L314.39,267.19 L315.09,266.71 L315.79,266.23 L316.49,265.76 L317.20,265.28 L317.90,264.81 L318.61,264.34 L319.32,263.86 L320.03,263.39 L320.74,262.92 L321.46,262.44 L322.18,261.97 L322.89,261.50 L323.61,261.03 L324.33,260.56 L325.05,260.09 L325.78,259.62 L326.50,259.15 L327.23,258.69 L327.96,258.22 L328.69,257.75 L329.42,257.28 L330.15,256.82 L330.89,256.35 L331.62,255.89 L332.36,255.42 L333.10,254.96 L333.84,254.49 L334.59,254.03 L335.33,253.56 L336.07,253.10 L336.82,252.64 L337.57,252.18 L338.32,251.72 L339.07,251.26 L339.83,250.80 L340.58,250.34 L341.34,249.88 L342.10,249.42 L342.86,248.96 L343.62,248.50 L344.38,248.04 L345.15,247.59 L345.91,247.13 L346.68,246.67 L347.45,246.22 L348.22,245.76 L348.99,245.31 L349.77,244.86 L350.54,244.40 L351.32,243.95 L351.84,243.65 L352.36,243.35 L352.88,243.04 L353.40,242.74 L353.92,242.44 L354.44,242.14 L354.96,241.84 L355.49,241.54 L356.01,241.24 L356.54,240.94 L357.06,240.64 L357.59,240.34 L358.12,240.04 L358.65,239.74 L359.17,239.45 L359.70,239.15 L360.23,238.85 L360.76,238.55 L361.30,238.25 L361.83,237.95 L362.36,237.66 L362.89,237.36 L363.43,237.06 L363.96,236.77 L364.50,236.47 L365.04,236.17 L365.57,235.88 L366.11,235.58 L366.65,235.29 L367.19,234.99 L367.73,234.69 L368.27,234.40 L368.81,234.10 L369.35,233.81 L369.89,233.52 L370.44,233.22 L370.98,232.93 L371.53,232.63 L372.07,232.34 L372.62,232.05 L373.16,231.75 L373.71,231.46 L374.26,231.17 L374.81,230.88 L375.36,230.58 L375.91,230.29 L376.46,230.00 L377.01,229.71 L377.56,229.42 L378.12,229.13 L378.67,228.83 L379.23,228.54 L379.78,228.25 L380.34,227.96 L380.89,227.67 L381.45,227.38 L382.01,227.09 L382.57,226.80 L383.13,226.51 L383.69,226.23 L384.25,225.94 L384.81,225.65 L385.37,225.36 L385.93,225.07 L386.50,224.78 L387.06,224.50 L387.63,224.21 L388.19,223.92 L388.76,223.64 L389.32,223.35 L389.89,223.06 L390.46,222.78 L391.03,222.49 L391.60,222.20 L392.17,221.92 L392.74,221.63 L393.31,221.35 L393.89,221.06 L394.46,220.78 L395.03,220.49 L395.61,220.21 L396.18,219.92 L396.76,219.64 L397.34,219.36 L397.91,219.07 L398.49,218.79 L399.07,218.51 L399.65,218.22 L400.23,217.94 L400.81,217.66 L401.39,217.38 L401.97,217.10 L402.56,216.81 L403.14,216.53 L403.73,216.25 L404.31,215.97 L404.90,215.69 L405.48,215.41 L406.07,215.13 L406.66,214.85 L407.25,214.57 L407.84,214.29 L408.43,214.01 L409.02,213.73 L409.61,213.45 L410.20,213.17 L410.79,212.89 L411.39,212.62 L411.98,212.34 L412.58,212.06 L413.17,211.78 L413.77,211.50 L414.36,211.23 L414.96,210.95 L415.56,210.67 L416.16,210.40 L416.76,210.12 L417.36,209.84 L417.96,209.57 L418.56,209.29 L419.17,209.02 L419.77,208.74 L420.37,208.47 L420.98,208.19 L421.58,207.92 L422.19,207.64 L422.80,207.37 L423.40,207.09 L424.01,206.82 L424.62,206.55 L425.23,206.27 L425.84,206.00 L426.45,205.73 L427.06,205.46 L427.67,205.18 L428.29,204.91 L428.90,204.64 L429.52,204.37 L430.13,204.10 L430.75,203.82 L431.36,203.55 L431.98,203.28 L432.60,203.01 L433.22,202.74 L433.84,202.47 L434.46,202.20 L435.08,201.93 L435.70,201.66 L436.32,201.39 L436.94,201.12 L437.57,200.85 L438.19,200.59 L438.82,200.32 L439.44,200.05 L440.07,199.78 L440.69,199.51 L441.32,199.24 L441.95,198.98 L442.58,198.71 L443.21,198.44 L443.84,198.18 L444.47,197.91 L445.10,197.64 L445.73,197.37 L446.37,197.11 L447.00,196.84 L447.64,196.58 L448.27,196.31 L448.91,196.04 L449.54,195.78 L450.18,195.51 L450.82,195.25 L451.46,194.98 L452.10,194.72 L452.74,194.45 L453.38,194.19 L454.02,193.93 L454.66,193.66 L455.31,193.40 L455.95,193.13 L456.59,192.87 L457.24,192.61 L457.88,192.35 L458.53,192.08 L459.18,191.82 L459.83,191.56 L460.47,191.30 L461.12,191.03 L461.77,190.77 L462.42,190.51 L463.08,190.25 L463.73,189.99 L464.38,189.73 L465.03,189.46 L465.69,189.20 L466.34,188.94 L467.00,188.68 L467.65,188.42 L468.31,188.16 L468.97,187.90 L469.63,187.64 L470.29,187.39 L470.95,187.13 L471.61,186.87 L472.27,186.61 L472.93,186.35 L473.59,186.09 L474.25,185.83 L474.92,185.58 L475.58,185.32 L476.25,185.06 L476.91,184.80 L477.58,184.55 L478.25,184.29 L478.92,184.03 L479.59,183.78 L480.25,183.52 L480.93,183.27 L481.60,183.01 L482.27,182.75 L482.94,182.50 L483.61,182.24 L484.29,181.99 L484.96,181.73 L485.64,181.48 L486.31,181.22 L486.99,180.97 L487.66,180.72 L488.34,180.46 L489.02,180.21 L489.70,179.96 L490.38,179.70 L491.06,179.45 L491.74,179.20 L492.42,178.95 L493.11,178.69 L493.79,178.44 L494.47,178.19 L495.16,177.94 L495.84,177.69 L496.53,177.44 L497.22,177.19 L497.91,176.93 L498.59,176.68 L499.28,176.43 L499.97,176.18 L500.66,175.93 L501.35,175.68 L502.05,175.43 L502.74,175.19 L503.43,174.94 L504.12,174.69 L504.82,174.44 L505.51,174.19 L506.21,173.94 L506.91,173.70 L507.60,173.45 L508.30,173.20 L509.00,172.95 L509.70,172.71 L510.40,172.46 L511.10,172.21 L511.80,171.97 L512.51,171.72 L513.21,171.47 L513.91,171.23 L514.62,170.98 L515.32,170.74 L516.03,170.49 L516.73,170.25 L517.44,170.00 L518.15,169.76 L518.86,169.52 L519.57,169.27 L520.28,169.03 L520.99,168.78 L521.70,168.54 L522.41,168.30 L523.12,168.06 L523.84,167.81 L524.55,167.57 L525.26,167.33 L525.98,167.09 L526.70,166.85 L527.41,166.60 L528.13,166.36 L528.85,166.12 L529.57,165.88 L530.29,165.64 L531.01,165.40 L531.73,165.16 L532.45,164.92 L533.17,164.68 L533.90,164.44 L534.62,164.20 L535.34,163.96 L536.07,163.72 L536.80,163.49 L537.52,163.25 L538.25,163.01 L538.98,162.77 L539.71,162.54 L540.44,162.30 L541.17,162.06 L541.90,161.82 L542.63,161.59 L543.36,161.35 L544.09,161.11 L544.83,160.88 L545.56,160.64 L546.30,160.41 L547.03,160.17 L547.77,159.94 L548.50,159.70 L549.24,159.47 L549.98,159.23 L550.72,159.00 L551.46,158.77 L552.20,158.53 L552.94,158.30 L553.68,158.07 L554.43,157.83 L555.17,157.60 L555.91,157.37 L556.66,157.14 L557.40,156.90 L558.15,156.67 L558.90,156.44 L559.64,156.21 L560.39,155.98 L561.14,155.75 L561.89,155.52 L562.64,155.29 L563.39,155.06 L564.14,154.83 L564.90,154.60 L565.65,154.37 L566.40,154.14 L567.16,153.91 L567.91,153.68 L568.67,153.45 L569.43,153.22 L570.18,153.00 L570.94,152.77 L571.70,152.54 L572.46,152.31 L573.22,152.09 L573.98,151.86 L574.74,151.63 L575.50,151.41 L576.27,151.18 L577.03,150.95 L577.79,150.73 L578.56,150.50 L579.32,150.28 L580.09,150.05 L580.86,149.83 L581.63,149.60 L582.39,149.38 L583.16,149.16 L583.93,148.93 L584.70,148.71 L585.47,148.49 L586.25,148.26 L587.02,148.04 L587.79,147.82 L588.57,147.59 L589.34,147.37 L590.12,147.15 L590.89,146.93 L591.67,146.71 L592.45,146.49 L593.22,146.27 L594.00,146.05 L594.78,145.82 L595.56,145.60 L596.34,145.38 L597.13,145.16 L597.91,144.95 L598.69,144.73 L599.48,144.51 L600.26,144.29 L601.05,144.07 L601.83,143.85 L602.62,143.63 L603.40,143.42 L604.19,143.20 L604.98,142.98 L605.77,142.76 L606.56,142.55 L607.35,142.33 L608.14,142.11 L608.94,141.90 L609.73,141.68 L610.52,141.47 L611.32,141.25 L612.11,141.04 L612.91,140.82 L613.70,140.61 L614.50,140.39 L615.30,140.18 L616.10,139.96 L616.89,139.75 L617.69,139.54 L618.49,139.32 L619.30,139.11 L620.10,138.90 L620.90,138.69 L621.70,138.47 L622.51,138.26 L623.31,138.05 L624.12,137.84 L624.92,137.63 L625.73,137.42 L626.54,137.20 L627.35,136.99 L628.16,136.78 L628.96,136.57 L629.77,136.36 L630.59,136.15 L631.40,135.94 L632.21,135.73 L633.02,135.53 L633.84,135.32 L634.65,135.11 L635.47,134.90 L636.28,134.69 L637.10,134.48 L637.92,134.27 L638.73,134.07 L639.55,133.86 L640.37,133.65 L641.19,133.44 L642.01,133.24 L642.83,133.03 L643.66,132.82 L644.48,132.62 L645.30,132.41 L646.13,132.21 L646.95,132.00 L647.78,131.80 L648.60,131.59 L649.43,131.39 L650.26,131.18 L651.09,130.98 L651.91,130.77 L652.74,130.57 L653.58,130.36 L654.41,130.16 L655.24,129.96 L656.07,129.75 L656.90,129.55 L657.74,129.35 L658.57,129.14 L659.41,128.94 L660.24,128.74 L661.08,128.54 L661.92,128.34 L662.76,128.13 L663.59,127.93 L664.43,127.73 L665.27,127.53 L666.12,127.33 L666.96,127.13 L667.80,126.93 L668.64,126.73 L669.49,126.53 L670.33,126.33 L671.18,126.13 L672.02,125.93 L672.87,125.73 L673.72,125.53 L674.56,125.33 L675.41,125.13 L676.26,124.94 L677.11,124.74 L677.96,124.54 L678.81,124.34 L679.67,124.15 L680.52,123.95 L681.37,123.75 L682.23,123.55 L683.08,123.36 L683.94,123.16 L684.79,122.96 L685.65,122.77 L686.51,122.57 L687.36,122.38 L688.22,122.18 L689.08,121.99 L689.94,121.79 L690.81,121.60 L691.67,121.40 L692.53,121.21 L693.39,121.01 L694.26,120.82 L695.12,120.63 L695.99,120.43 L696.85,120.24 L697.72,120.05 L698.59,119.85 L699.45,119.66 L700.32,119.47 L701.19,119.28 L702.06,119.08 L702.93,118.89 L703.81,118.70 L704.68,118.51 L705.55,118.32 L706.42,118.13 L707.30,117.93 L708.17,117.74 L709.05,117.55 L709.93,117.36 L710.80,117.17 L711.68,116.98 L712.56,116.79 L713.44,116.60 L714.32,116.42 L715.20,116.23 L716.08,116.04 L716.96,115.85 L717.85,115.66 L718.73,115.47 L719.61,115.28 L720.50,115.10 L721.38,114.91 L722.27,114.72 L723.16,114.53 L724.04,114.35 L724.93,114.16 L725.82,113.97 L726.71,113.79 L727.60,113.60 L728.49,113.41 L729.38,113.23 L730.28,113.04 L731.17,112.86 L732.06,112.67 L732.96,112.49 L733.85,112.30 L734.75,112.12 L735.65,111.93 L736.54,111.75 L737.44,111.57 L738.34,111.38 L739.24,111.20 L740.14,111.02 L741.04,110.83 L741.94,110.65 L742.85,110.47 L743.75,110.28 L744.65,110.10 L745.56,109.92 L746.46,109.74 L747.37,109.56 L748.27,109.37 L749.18,109.19 L750.09,109.01 L751.00,108.83 L751.91,108.65 L752.82,108.47 L753.73,108.29 L754.64,108.11 L755.55,107.93 L756.46,107.75 L757.38,107.57 L758.29,107.39 L759.20,107.21 L760.12,107.03 L761.04,106.85 L761.95,106.67 L762.87,106.50 L763.79,106.32 L764.71,106.14 L765.63,105.96 L766.55,105.78 L767.47,105.61 L768.39,105.43 L769.31,105.25 L770.24,105.08 L771.16,104.90 L772.09,104.72 L773.01,104.55 L773.94,104.37 L774.86,104.20 L775.79,104.02 L776.72,103.85 L777.65,103.67 L778.58,103.49 L779.51,103.32 L780.44,103.15 L781.37,102.97 L782.30,102.80 L783.23,102.62 L784.17,102.45 L785.10,102.28 L786.04,102.10 L786.97,101.93 L787.91,101.76 L788.85,101.58 L789.78,101.41 L790.72,101.24 L791.66,101.07 L792.60,100.89 L793.54,100.72 L794.48,100.55 L795.43,100.38 L796.37,100.21 L797.31,100.04 L798.26,99.87 L799.20,99.70 L800.15,99.53 L801.09,99.36 L802.04,99.19 L802.99,99.02 L803.93,98.85 L804.88,98.68 L805.83,98.51 L806.78,98.34 L807.73,98.17 L808.69,98.00 L809.64,97.83 L810.59,97.66 L811.55,97.50 L812.50,97.33 L813.46,97.16 L814.41,96.99 L815.37,96.83 L816.33,96.66 L817.28,96.49 L818.24,96.32 L819.20,96.16 L820.16,95.99 L821.12,95.83 L822.08,95.66 L823.05,95.49 L824.01,95.33 L824.97,95.16 L825.94,95.00 L826.90,94.83 L827.87,94.67 L828.83,94.50 L829.80,94.34 L830.77,94.18 L831.74,94.01 L832.71,93.85 L833.68,93.68 L834.65,93.52 L835.62,93.36 L836.59,93.19 L837.56,93.03 L838.54,92.87 L839.51,92.71 L840.48,92.54 L841.46,92.38 L842.44,92.22 L843.41,92.06 L844.39,91.90 L845.37,91.74 L846.35,91.58 L847.33,91.41 L848.31,91.25 L849.29,91.09 L850.27,90.93 L851.25,90.77 L852.24,90.61 L853.22,90.45 L854.20,90.29 L855.19,90.13 L856.17,89.98 L857.16,89.82 L858.15,89.66 L859.14,89.50 L860.13,89.34 L861.11,89.18 L862.10,89.02 L863.10,88.87 L864.09,88.71 L865.08,88.55 L866.07,88.39 L867.07,88.24 L868.06,88.08 L869.05,87.92 L870.05,87.77 L871.05,87.61 L872.04,87.45 L873.04,87.30 L874.04,87.14 L875.04,86.99 L876.04,86.83 L877.04,86.68 L878.04,86.52 L879.04,86.37 L880.05,86.21 L881.05,86.06 L882.05,85.90 L883.06,85.75 L884.06,85.60 L885.07,85.44 L886.08,85.29 L887.08,85.14 L888.09,84.98 L889.10,84.83 L890.11,84.68 L891.12,84.52 L892.13,84.37 L893.14,84.22 L894.16,84.07 L895.17,83.92 L896.18,83.76 L897.20,83.61 L898.21,83.46 L899.23,83.31 L900.24,83.16 L901.26,83.01 L902.28,82.86 L903.30,82.71 L904.32,82.56 L905.34,82.41 L906.36,82.26 L907.38,82.11 L908.40,81.96 L909.42,81.81 L910.45,81.66 L911.47,81.51 L912.50,81.36 L913.52,81.22 L914.55,81.07 L915.58,80.92 L916.60,80.77 L917.63,80.62 L918.66,80.48 L919.69,80.33 L920.72,80.18 L921.75,80.04 L922.78,79.89 L923.82,79.74 L924.85,79.60 L925.88,79.45 L926.92,79.30 L927.95,79.16 L928.99,79.01 L930.03,78.87 L931.06,78.72 L932.10,78.58 L933.14,78.43 L934.18,78.29 L935.22,78.14 L936.26,78.00 L937.30,77.85 L938.35,77.71 L939.39,77.57 L940.43,77.42 L941.48,77.28 L942.00,77.21" stroke="#0000ff" stroke-width="3.15" fill="none" stroke-linejoin="round" stroke-dasharray="6.32,10.11"/>
<path d="M166.33,412.52 L166.33,413.25 L166.33,413.95 L166.34,414.61 L166.34,415.24 L166.35,415.84 L166.36,416.60 L166.38,417.31 L166.39,417.98 L166.41,418.60 L166.44,419.33 L166.47,420.00 L166.51,420.62 L166.56,421.30 L166.62,421.92 L166.69,422.56 L166.79,423.21 L166.91,423.83 L167.08,424.44 L167.32,425.03 L167.70,425.53 L168.30,425.71 L168.88,425.50 L169.38,425.14 L169.85,424.70 L170.28,424.22 L170.70,423.72 L171.09,423.20 L171.46,422.68 L171.85,422.13 L172.20,421.60 L172.57,421.04 L172.90,420.53 L173.24,419.99 L173.58,419.43 L173.94,418.84 L174.25,418.33 L174.56,417.79 L174.89,417.25 L175.22,416.68 L175.55,416.10 L175.89,415.51 L176.24,414.90 L176.60,414.28 L176.89,413.75 L177.20,413.22 L177.51,412.67 L177.82,412.12 L178.14,411.56 L178.46,410.99 L178.78,410.41 L179.11,409.82 L179.45,409.23 L179.79,408.62 L180.13,408.02 L180.48,407.40 L180.83,406.78 L181.18,406.15 L181.54,405.51 L181.91,404.87 L182.28,404.22 L182.57,403.70 L182.88,403.17 L183.18,402.65 L183.49,402.11 L183.79,401.58 L184.11,401.04 L184.42,400.49 L184.74,399.95 L185.06,399.40 L185.38,398.85 L185.71,398.29 L186.04,397.74 L186.37,397.18 L186.70,396.62 L187.04,396.05 L187.38,395.48 L187.72,394.92 L188.06,394.35 L188.41,393.77 L188.76,393.20 L189.12,392.62 L189.47,392.04 L189.83,391.46 L190.19,390.88 L190.56,390.30 L190.92,389.72 L191.29,389.13 L191.67,388.54 L192.04,387.96 L192.42,387.37 L192.80,386.78 L193.18,386.19 L193.57,385.60 L193.96,385.01 L194.35,384.42 L194.75,383.82 L195.14,383.23 L195.54,382.64 L195.95,382.05 L196.35,381.46 L196.76,380.87 L197.17,380.28 L197.58,379.69 L198.00,379.10 L198.42,378.49 L198.84,377.88 L199.27,377.27 L199.70,376.66 L200.13,376.05 L200.56,375.44 L201.00,374.83 L201.43,374.21 L201.88,373.60 L202.32,372.99 L202.77,372.37 L203.22,371.75 L203.67,371.14 L204.13,370.52 L204.58,369.90 L205.04,369.28 L205.51,368.66 L205.97,368.04 L206.44,367.41 L206.92,366.79 L207.39,366.17 L207.87,365.54 L208.35,364.92 L208.83,364.29 L209.32,363.66 L209.81,363.04 L210.30,362.41 L210.79,361.78 L211.16,361.31 L211.54,360.83 L211.91,360.36 L212.29,359.89 L212.67,359.41 L213.05,358.94 L213.43,358.46 L213.81,357.99 L214.20,357.51 L214.58,357.04 L214.97,356.56 L215.36,356.08 L215.75,355.61 L216.14,355.13 L216.54,354.65 L216.93,354.17 L217.33,353.69 L217.73,353.22 L218.13,352.74 L218.53,352.26 L218.93,351.78 L219.34,351.30 L219.75,350.82 L220.15,350.33 L220.56,349.85 L220.97,349.37 L221.39,348.89 L221.80,348.41 L222.22,347.92 L222.63,347.44 L223.05,346.95 L223.47,346.47 L223.90,345.99 L224.32,345.50 L224.74,345.02 L225.17,344.53 L225.60,344.04 L226.03,343.56 L226.46,343.07 L226.89,342.58 L227.33,342.10 L227.76,341.61 L228.20,341.12 L228.64,340.63 L229.08,340.14 L229.52,339.65 L229.97,339.17 L230.41,338.68 L230.86,338.19 L231.31,337.70 L231.76,337.21 L232.21,336.72 L232.66,336.23 L233.12,335.74 L233.57,335.25 L234.03,334.76 L234.49,334.27 L234.95,333.78 L235.41,333.29 L235.88,332.80 L236.34,332.31 L236.81,331.82 L237.28,331.33 L237.75,330.84 L238.22,330.35 L238.69,329.86 L239.17,329.37 L239.64,328.88 L240.12,328.39 L240.60,327.90 L241.08,327.41 L241.56,326.92 L242.05,326.43 L242.53,325.95 L243.02,325.46 L243.51,324.97 L244.00,324.48 L244.49,323.99 L244.99,323.50 L245.48,323.01 L245.98,322.52 L246.48,322.03 L246.97,321.54 L247.48,321.06 L247.98,320.57 L248.48,320.08 L248.99,319.59 L249.50,319.10 L250.01,318.61 L250.52,318.13 L251.03,317.64 L251.54,317.15 L252.06,316.66 L252.57,316.17 L253.09,315.69 L253.61,315.20 L254.13,314.71 L254.66,314.23 L255.18,313.74 L255.71,313.25 L256.23,312.77 L256.76,312.28 L257.29,311.79 L257.83,311.31 L258.36,310.82 L258.89,310.33 L259.43,309.85 L259.97,309.36 L260.51,308.88 L261.05,308.39 L261.59,307.91 L262.14,307.42 L262.68,306.94 L263.23,306.45 L263.78,305.97 L264.33,305.49 L264.89,305.00 L265.44,304.52 L265.99,304.04 L266.55,303.55 L267.11,303.07 L267.67,302.59 L268.23,302.10 L268.80,301.62 L269.36,301.14 L269.93,300.66 L270.49,300.18 L271.06,299.69 L271.63,299.21 L272.21,298.73 L272.78,298.25 L273.36,297.77 L273.93,297.29 L274.51,296.81 L275.09,296.33 L275.68,295.85 L276.26,295.37 L276.84,294.89 L277.43,294.41 L278.02,293.93 L278.61,293.45 L279.20,292.98 L279.79,292.50 L280.39,292.02 L280.98,291.54 L281.58,291.07 L282.18,290.59 L282.78,290.11 L283.38,289.64 L283.98,289.16 L284.59,288.68 L285.20,288.21 L285.80,287.73 L286.41,287.26 L287.03,286.78 L287.64,286.31 L288.25,285.84 L288.87,285.36 L289.49,284.89 L290.11,284.42 L290.73,283.94 L291.35,283.47 L291.97,283.00 L292.60,282.53 L293.23,282.06 L293.85,281.58 L294.48,281.11 L295.12,280.64 L295.75,280.17 L296.38,279.70 L297.02,279.23 L297.66,278.76 L298.30,278.30 L298.94,277.83 L299.58,277.36 L300.22,276.89 L300.87,276.42 L301.52,275.96 L302.16,275.49 L302.82,275.02 L303.47,274.56 L304.12,274.09 L304.78,273.62 L305.43,273.16 L306.09,272.69 L306.75,272.23 L307.41,271.77 L308.07,271.30 L308.74,270.84 L309.40,270.38 L310.07,269.91 L310.74,269.45 L311.41,268.99 L312.08,268.53 L312.75,268.06 L313.43,267.60 L314.11,267.14 L314.78,266.68 L315.46,266.22 L316.14,265.76 L316.83,265.30 L317.51,264.85 L318.20,264.39 L318.89,263.93 L319.57,263.47 L320.26,263.01 L320.96,262.56 L321.65,262.10 L322.35,261.64 L323.04,261.19 L323.74,260.73 L324.44,260.28 L325.14,259.82 L325.85,259.37 L326.55,258.92 L327.26,258.46 L327.96,258.01 L328.67,257.56 L329.38,257.10 L330.10,256.65 L330.81,256.20 L331.52,255.75 L332.24,255.30 L332.96,254.85 L333.68,254.40 L334.40,253.95 L335.12,253.50 L335.85,253.05 L336.58,252.60 L337.30,252.15 L338.03,251.71 L338.76,251.26 L339.50,250.81 L340.23,250.37 L340.97,249.92 L341.70,249.47 L342.44,249.03 L343.18,248.58 L343.92,248.14 L344.67,247.69 L345.41,247.25 L346.16,246.81 L346.91,246.37 L347.66,245.92 L348.41,245.48 L349.16,245.04 L349.91,244.60 L350.67,244.16 L351.43,243.72 L352.19,243.28 L352.95,242.84 L353.71,242.40 L354.47,241.96 L355.24,241.52 L356.00,241.08 L356.77,240.65 L357.54,240.21 L358.31,239.77 L359.09,239.34 L359.86,238.90 L360.64,238.47 L361.41,238.03 L362.19,237.60 L362.97,237.16 L363.75,236.73 L364.54,236.30 L365.32,235.86 L366.11,235.43 L366.90,235.00 L367.69,234.57 L368.22,234.28 L368.74,233.99 L369.27,233.71 L369.80,233.42 L370.33,233.13 L370.86,232.85 L371.40,232.56 L371.93,232.27 L372.46,231.99 L372.99,231.70 L373.53,231.42 L374.06,231.13 L374.60,230.85 L375.14,230.56 L375.67,230.28 L376.21,229.99 L376.75,229.71 L377.29,229.42 L377.83,229.14 L378.37,228.85 L378.91,228.57 L379.45,228.29 L380.00,228.00 L380.54,227.72 L381.08,227.44 L381.63,227.16 L382.17,226.87 L382.72,226.59 L383.27,226.31 L383.81,226.03 L384.36,225.75 L384.91,225.46 L385.46,225.18 L386.01,224.90 L386.56,224.62 L387.11,224.34 L387.66,224.06 L388.22,223.78 L388.77,223.50 L389.33,223.22 L389.88,222.94 L390.44,222.66 L390.99,222.38 L391.55,222.10 L392.11,221.82 L392.67,221.54 L393.23,221.27 L393.79,220.99 L394.35,220.71 L394.91,220.43 L395.47,220.15 L396.03,219.88 L396.60,219.60 L397.16,219.32 L397.72,219.05 L398.29,218.77 L398.86,218.49 L399.42,218.22 L399.99,217.94 L400.56,217.66 L401.13,217.39 L401.70,217.11 L402.27,216.84 L402.84,216.56 L403.41,216.29 L403.98,216.01 L404.55,215.74 L405.13,215.46 L405.70,215.19 L406.28,214.92 L406.85,214.64 L407.43,214.37 L408.01,214.09 L408.58,213.82 L409.16,213.55 L409.74,213.28 L410.32,213.00 L410.90,212.73 L411.48,212.46 L412.07,212.19 L412.65,211.91 L413.23,211.64 L413.82,211.37 L414.40,211.10 L414.99,210.83 L415.57,210.56 L416.16,210.29 L416.75,210.02 L417.33,209.75 L417.92,209.48 L418.51,209.21 L419.10,208.94 L419.69,208.67 L420.29,208.40 L420.88,208.13 L421.47,207.86 L422.07,207.59 L422.66,207.33 L423.25,207.06 L423.85,206.79 L424.45,206.52 L425.04,206.25 L425.64,205.99 L426.24,205.72 L426.84,205.45 L427.44,205.19 L428.04,204.92 L428.64,204.65 L429.24,204.39 L429.85,204.12 L430.45,203.86 L431.05,203.59 L431.66,203.33 L432.26,203.06 L432.87,202.80 L433.48,202.53 L434.08,202.27 L434.69,202.00 L435.30,201.74 L435.91,201.47 L436.52,201.21 L437.13,200.95 L437.74,200.68 L438.36,200.42 L438.97,200.16 L439.58,199.89 L440.20,199.63 L440.81,199.37 L441.43,199.11 L442.04,198.84 L442.66,198.58 L443.28,198.32 L443.90,198.06 L444.52,197.80 L445.14,197.54 L445.76,197.27 L446.38,197.01 L447.00,196.75 L447.62,196.49 L448.25,196.23 L448.87,195.97 L449.50,195.71 L450.12,195.45 L450.75,195.19 L451.37,194.93 L452.00,194.67 L452.63,194.41 L453.26,194.15 L453.89,193.89 L454.52,193.63 L455.15,193.38 L455.78,193.12 L456.41,192.86 L457.05,192.60 L457.68,192.34 L458.31,192.09 L458.95,191.83 L459.59,191.57 L460.22,191.31 L460.86,191.06 L461.50,190.80 L462.14,190.54 L462.77,190.29 L463.41,190.03 L464.06,189.77 L464.70,189.52 L465.34,189.26 L465.98,189.01 L466.62,188.75 L467.27,188.50 L467.91,188.24 L468.56,187.99 L469.20,187.73 L469.85,187.48 L470.50,187.22 L471.15,186.97 L471.80,186.71 L472.45,186.46 L473.10,186.21 L473.75,185.95 L474.40,185.70 L475.05,185.45 L475.70,185.19 L476.36,184.94 L477.01,184.69 L477.67,184.44 L478.32,184.18 L478.98,183.93 L479.64,183.68 L480.29,183.43 L480.95,183.18 L481.61,182.93 L482.27,182.68 L482.93,182.43 L483.59,182.18 L484.26,181.92 L484.92,181.67 L485.58,181.42 L486.25,181.18 L486.91,180.93 L487.58,180.68 L488.24,180.43 L488.91,180.18 L489.58,179.93 L490.25,179.68 L490.91,179.43 L491.58,179.18 L492.25,178.94 L492.93,178.69 L493.60,178.44 L494.27,178.19 L494.94,177.95 L495.62,177.70 L496.29,177.45 L496.97,177.21 L497.64,176.96 L498.32,176.71 L498.99,176.47 L499.67,176.22 L500.35,175.98 L501.03,175.73 L501.71,175.49 L502.39,175.24 L503.07,175.00 L503.75,174.75 L504.44,174.51 L505.12,174.26 L505.80,174.02 L506.49,173.78 L507.17,173.53 L507.86,173.29 L508.55,173.05 L509.24,172.80 L509.92,172.56 L510.61,172.32 L511.30,172.08 L511.99,171.83 L512.68,171.59 L513.38,171.35 L514.07,171.11 L514.76,170.87 L515.45,170.63 L516.15,170.39 L516.84,170.15 L517.54,169.91 L518.24,169.67 L518.93,169.43 L519.63,169.19 L520.33,168.95 L521.03,168.71 L521.73,168.47 L522.43,168.23 L523.13,167.99 L523.83,167.75 L524.54,167.51 L525.24,167.28 L525.94,167.04 L526.65,166.80 L527.35,166.56 L528.06,166.33 L528.77,166.09 L529.47,165.85 L530.18,165.61 L530.89,165.38 L531.60,165.14 L532.31,164.91 L533.02,164.67 L533.73,164.44 L534.45,164.20 L535.16,163.96 L535.87,163.73 L536.59,163.50 L537.30,163.26 L538.02,163.03 L538.73,162.79 L539.45,162.56 L540.17,162.33 L540.89,162.09 L541.61,161.86 L542.33,161.63 L543.05,161.39 L543.77,161.16 L544.49,160.93 L545.21,160.70 L545.94,160.47 L546.66,160.23 L547.39,160.00 L548.11,159.77 L548.84,159.54 L549.57,159.31 L550.29,159.08 L551.02,158.85 L551.75,158.62 L552.48,158.39 L553.21,158.16 L553.94,157.93 L554.67,157.70 L555.40,157.47 L556.14,157.24 L556.87,157.01 L557.61,156.79 L558.34,156.56 L559.08,156.33 L559.81,156.10 L560.55,155.88 L561.29,155.65 L562.03,155.42 L562.77,155.19 L563.51,154.97 L564.25,154.74 L564.99,154.52 L565.73,154.29 L566.47,154.06 L567.22,153.84 L567.96,153.61 L568.71,153.39 L569.45,153.16 L570.20,152.94 L570.94,152.72 L571.69,152.49 L572.44,152.27 L573.19,152.04 L573.94,151.82 L574.69,151.60 L575.44,151.37 L576.19,151.15 L576.94,150.93 L577.70,150.71 L578.45,150.48 L579.21,150.26 L579.96,150.04 L580.72,149.82 L581.47,149.60 L582.23,149.38 L582.99,149.16 L583.75,148.94 L584.51,148.72 L585.27,148.50 L586.03,148.28 L586.79,148.06 L587.55,147.84 L588.31,147.62 L589.08,147.40 L589.84,147.18 L590.60,146.96 L591.37,146.75 L592.14,146.53 L592.90,146.31 L593.67,146.09 L594.44,145.87 L595.21,145.66 L595.98,145.44 L596.75,145.22 L597.52,145.01 L598.29,144.79 L599.06,144.58 L599.84,144.36 L600.61,144.14 L601.38,143.93 L602.16,143.71 L602.94,143.50 L603.71,143.29 L604.49,143.07 L605.27,142.86 L606.05,142.64 L606.82,142.43 L607.60,142.22 L608.39,142.00 L609.17,141.79 L609.95,141.58 L610.73,141.36 L611.52,141.15 L612.30,140.94 L613.08,140.73 L613.87,140.52 L614.66,140.31 L615.44,140.09 L616.23,139.88 L617.02,139.67 L617.81,139.46 L618.60,139.25 L619.39,139.04 L620.18,138.83 L620.97,138.62 L621.76,138.41 L622.56,138.21 L623.35,138.00 L624.14,137.79 L624.94,137.58 L625.73,137.37 L626.53,137.16 L627.33,136.96 L628.13,136.75 L628.93,136.54 L629.72,136.33 L630.52,136.13 L631.33,135.92 L632.13,135.71 L632.93,135.51 L633.73,135.30 L634.53,135.10 L635.34,134.89 L636.14,134.68 L636.95,134.48 L637.76,134.27 L638.56,134.07 L639.37,133.86 L640.18,133.66 L640.99,133.46 L641.80,133.25 L642.61,133.05 L643.42,132.84 L644.23,132.64 L645.04,132.44 L645.86,132.23 L646.67,132.03 L647.48,131.83 L648.30,131.63 L649.11,131.42 L649.93,131.22 L650.75,131.02 L651.57,130.82 L652.39,130.62 L653.20,130.42 L654.02,130.21 L654.85,130.01 L655.67,129.81 L656.49,129.61 L657.31,129.41 L658.13,129.21 L658.96,129.01 L659.78,128.81 L660.61,128.61 L661.44,128.41 L662.26,128.22 L663.09,128.02 L663.92,127.82 L664.75,127.62 L665.58,127.42 L666.41,127.22 L667.24,127.03 L668.07,126.83 L668.90,126.63 L669.74,126.43 L670.57,126.24 L671.40,126.04 L672.24,125.84 L673.07,125.65 L673.91,125.45 L674.75,125.25 L675.59,125.06 L676.43,124.86 L677.26,124.67 L678.10,124.47 L678.95,124.28 L679.79,124.08 L680.63,123.89 L681.47,123.69 L682.31,123.50 L683.16,123.30 L684.00,123.11 L684.85,122.92 L685.70,122.72 L686.54,122.53 L687.39,122.34 L688.24,122.14 L689.09,121.95 L689.94,121.76 L690.79,121.57 L691.64,121.37 L692.49,121.18 L693.34,120.99 L694.20,120.80 L695.05,120.61 L695.90,120.42 L696.76,120.23 L697.62,120.04 L698.47,119.84 L699.33,119.65 L700.19,119.46 L701.05,119.27 L701.90,119.08 L702.76,118.90 L703.63,118.71 L704.49,118.52 L705.35,118.33 L706.21,118.14 L707.08,117.95 L707.94,117.76 L708.80,117.57 L709.67,117.39 L710.54,117.20 L711.40,117.01 L712.27,116.82 L713.14,116.64 L714.01,116.45 L714.88,116.26 L715.75,116.08 L716.62,115.89 L717.49,115.70 L718.36,115.52 L719.24,115.33 L720.11,115.15 L720.98,114.96 L721.86,114.78 L722.74,114.59 L723.61,114.41 L724.49,114.22 L725.37,114.04 L726.25,113.85 L727.13,113.67 L728.01,113.49 L728.89,113.30 L729.77,113.12 L730.65,112.93 L731.53,112.75 L732.42,112.57 L733.30,112.39 L734.18,112.20 L735.07,112.02 L735.96,111.84 L736.84,111.66 L737.73,111.48 L738.62,111.29 L739.51,111.11 L740.40,110.93 L741.29,110.75 L742.18,110.57 L743.07,110.39 L743.96,110.21 L744.86,110.03 L745.75,109.85 L746.65,109.67 L747.54,109.49 L748.44,109.31 L749.33,109.13 L750.23,108.95 L751.13,108.77 L752.03,108.60 L752.93,108.42 L753.83,108.24 L754.73,108.06 L755.63,107.88 L756.53,107.71 L757.43,107.53 L758.34,107.35 L759.24,107.18 L760.15,107.00 L761.05,106.82 L761.96,106.65 L762.86,106.47 L763.77,106.29 L764.68,106.12 L765.59,105.94 L766.50,105.77 L767.41,105.59 L768.32,105.42 L769.23,105.24 L770.14,105.07 L771.06,104.89 L771.97,104.72 L772.89,104.54 L773.80,104.37 L774.72,104.20 L775.63,104.02 L776.55,103.85 L777.47,103.68 L778.39,103.50 L779.31,103.33 L780.23,103.16 L781.15,102.99 L782.07,102.81 L782.99,102.64 L783.91,102.47 L784.84,102.30 L785.76,102.13 L786.69,101.96 L787.61,101.78 L788.54,101.61 L789.47,101.44 L790.39,101.27 L791.32,101.10 L792.25,100.93 L793.18,100.76 L794.11,100.59 L795.04,100.42 L795.97,100.25 L796.91,100.08 L797.84,99.92 L798.77,99.75 L799.71,99.58 L800.64,99.41 L801.58,99.24 L802.52,99.07 L803.45,98.91 L804.39,98.74 L805.33,98.57 L806.27,98.40 L807.21,98.24 L808.15,98.07 L809.09,97.90 L810.03,97.74 L810.98,97.57 L811.92,97.41 L812.86,97.24 L813.81,97.07 L814.75,96.91 L815.70,96.74 L816.65,96.58 L817.59,96.41 L818.54,96.25 L819.49,96.08 L820.44,95.92 L821.39,95.75 L822.34,95.59 L823.29,95.43 L824.25,95.26 L825.20,95.10 L826.15,94.94 L827.11,94.77 L828.06,94.61 L829.02,94.45 L829.98,94.29 L830.93,94.12 L831.89,93.96 L832.85,93.80 L833.81,93.64 L834.77,93.48 L835.73,93.32 L836.69,93.15 L837.65,92.99 L838.62,92.83 L839.58,92.67 L840.54,92.51 L841.51,92.35 L842.48,92.19 L843.44,92.03 L844.41,91.87 L845.38,91.71 L846.34,91.55 L847.31,91.39 L848.28,91.23 L849.25,91.08 L850.22,90.92 L851.20,90.76 L852.17,90.60 L853.14,90.44 L854.12,90.29 L855.09,90.13 L856.07,89.97 L857.04,89.81 L858.02,89.66 L859.00,89.50 L859.97,89.34 L860.95,89.19 L861.93,89.03 L862.91,88.87 L863.89,88.72 L864.87,88.56 L865.86,88.41 L866.84,88.25 L867.82,88.10 L868.81,87.94 L869.79,87.79 L870.78,87.63 L871.76,87.48 L872.75,87.32 L873.74,87.17 L874.73,87.01 L875.72,86.86 L876.71,86.71 L877.70,86.55 L878.69,86.40 L879.68,86.25 L880.67,86.09 L881.66,85.94 L882.66,85.79 L883.65,85.64 L884.65,85.49 L885.64,85.33 L886.64,85.18 L887.64,85.03 L888.64,84.88 L889.63,84.73 L890.63,84.58 L891.63,84.43 L892.63,84.28 L893.64,84.12 L894.64,83.97 L895.64,83.82 L896.64,83.67 L897.65,83.52 L898.65,83.38 L899.66,83.23 L900.67,83.08 L901.67,82.93 L902.68,82.78 L903.69,82.63 L904.70,82.48 L905.71,82.33 L906.72,82.19 L907.73,82.04 L908.74,81.89 L909.75,81.74 L910.77,81.60 L911.78,81.45 L912.79,81.30 L913.81,81.15 L914.83,81.01 L915.84,80.86 L916.86,80.72 L917.88,80.57 L918.90,80.42 L919.92,80.28 L920.94,80.13 L921.96,79.99 L922.98,79.84 L924.00,79.70 L925.02,79.55 L926.05,79.41 L927.07,79.26 L928.10,79.12 L929.12,78.97 L930.15,78.83 L931.18,78.69 L932.20,78.54 L933.23,78.40 L934.26,78.26 L935.29,78.11 L936.32,77.97 L937.35,77.83 L938.38,77.69 L939.42,77.54 L940.45,77.40 L941.48,77.26 L942.00,77.19" stroke="#000000" stroke-width="3.15" fill="none" stroke-linejoin="round" stroke-dasharray="1.26,5.06"/>
<path d="M174.25,386.73 L174.25,387.44 L174.25,388.13 L174.26,388.79 L174.27,389.42 L174.28,390.04 L174.30,390.77 L174.32,391.48 L174.35,392.15 L174.38,392.79 L174.42,393.40 L174.47,394.09 L174.52,394.75 L174.58,395.36 L174.66,396.03 L174.75,396.65 L174.86,397.31 L174.98,397.90 L175.13,398.50 L175.32,399.08 L175.56,399.67 L175.87,400.22 L176.27,400.67 L176.80,400.98 L177.42,401.05 L178.05,400.91 L178.61,400.65 L179.12,400.32 L179.62,399.95 L180.10,399.54 L180.56,399.11 L181.03,398.64 L181.47,398.18 L181.93,397.68 L182.34,397.21 L182.77,396.72 L183.21,396.19 L183.60,395.72 L184.00,395.22 L184.41,394.71 L184.82,394.17 L185.25,393.62 L185.62,393.14 L185.99,392.64 L186.38,392.13 L186.77,391.61 L187.16,391.08 L187.56,390.54 L187.97,389.99 L188.39,389.42 L188.81,388.85 L189.16,388.37 L189.52,387.87 L189.88,387.37 L190.25,386.87 L190.62,386.36 L191.00,385.84 L191.38,385.32 L191.76,384.79 L192.15,384.25 L192.54,383.71 L192.94,383.16 L193.34,382.61 L193.75,382.05 L194.16,381.49 L194.57,380.92 L194.99,380.35 L195.42,379.78 L195.84,379.20 L196.27,378.61 L196.71,378.03 L197.15,377.44 L197.59,376.84 L198.04,376.24 L198.40,375.75 L198.77,375.26 L199.14,374.77 L199.51,374.27 L199.88,373.77 L200.26,373.27 L200.63,372.77 L201.01,372.27 L201.40,371.76 L201.79,371.25 L202.17,370.74 L202.57,370.23 L202.96,369.72 L203.36,369.20 L203.76,368.68 L204.16,368.17 L204.57,367.64 L204.98,367.12 L205.39,366.60 L205.80,366.07 L206.22,365.54 L206.64,365.02 L207.06,364.49 L207.48,363.95 L207.91,363.42 L208.34,362.88 L208.77,362.35 L209.21,361.81 L209.65,361.27 L210.09,360.72 L210.53,360.18 L210.98,359.64 L211.43,359.09 L211.88,358.54 L212.34,357.99 L212.79,357.44 L213.25,356.89 L213.72,356.34 L214.18,355.78 L214.65,355.22 L215.12,354.67 L215.60,354.11 L216.07,353.55 L216.55,352.98 L217.03,352.42 L217.52,351.85 L218.01,351.29 L218.50,350.72 L218.99,350.15 L219.49,349.58 L219.98,349.01 L220.49,348.44 L220.99,347.86 L221.50,347.29 L222.01,346.71 L222.52,346.14 L223.03,345.56 L223.55,344.98 L224.07,344.40 L224.59,343.81 L225.12,343.23 L225.65,342.65 L226.18,342.06 L226.71,341.47 L227.25,340.88 L227.79,340.30 L228.20,339.85 L228.60,339.41 L229.01,338.97 L229.43,338.52 L229.84,338.08 L230.25,337.63 L230.67,337.19 L231.08,336.74 L231.50,336.29 L231.92,335.85 L232.35,335.40 L232.77,334.95 L233.19,334.50 L233.62,334.06 L234.05,333.61 L234.48,333.16 L234.91,332.71 L235.34,332.26 L235.77,331.81 L236.21,331.36 L236.65,330.91 L237.09,330.46 L237.53,330.01 L237.97,329.56 L238.41,329.11 L238.86,328.66 L239.30,328.20 L239.75,327.75 L240.20,327.30 L240.65,326.85 L241.10,326.40 L241.56,325.94 L242.01,325.49 L242.47,325.04 L242.93,324.58 L243.39,324.13 L243.85,323.68 L244.31,323.22 L244.78,322.77 L245.25,322.32 L245.71,321.86 L246.18,321.41 L246.65,320.95 L247.13,320.50 L247.60,320.04 L248.08,319.59 L248.55,319.13 L249.03,318.68 L249.51,318.22 L249.99,317.77 L250.48,317.31 L250.96,316.86 L251.45,316.40 L251.94,315.95 L252.42,315.49 L252.92,315.03 L253.41,314.58 L253.90,314.12 L254.40,313.67 L254.89,313.21 L255.39,312.75 L255.89,312.30 L256.40,311.84 L256.90,311.38 L257.40,310.93 L257.91,310.47 L258.42,310.01 L258.93,309.56 L259.44,309.10 L259.95,308.65 L260.46,308.19 L260.98,307.73 L261.50,307.28 L262.01,306.82 L262.54,306.36 L263.06,305.91 L263.58,305.45 L264.10,304.99 L264.63,304.54 L265.16,304.08 L265.69,303.62 L266.22,303.17 L266.75,302.71 L267.29,302.25 L267.82,301.80 L268.36,301.34 L268.90,300.89 L269.44,300.43 L269.98,299.97 L270.52,299.52 L271.07,299.06 L271.61,298.61 L272.16,298.15 L272.71,297.69 L273.26,297.24 L273.81,296.78 L274.37,296.33 L274.92,295.87 L275.48,295.42 L276.04,294.96 L276.60,294.51 L277.16,294.05 L277.72,293.59 L278.29,293.14 L278.85,292.69 L279.42,292.23 L279.99,291.78 L280.56,291.32 L281.13,290.87 L281.71,290.41 L282.28,289.96 L282.86,289.51 L283.44,289.05 L284.02,288.60 L284.60,288.14 L285.18,287.69 L285.77,287.24 L286.35,286.79 L286.94,286.33 L287.53,285.88 L288.12,285.43 L288.71,284.98 L289.31,284.52 L289.90,284.07 L290.50,283.62 L291.10,283.17 L291.70,282.72 L292.30,282.27 L292.90,281.81 L293.51,281.36 L294.11,280.91 L294.72,280.46 L295.33,280.01 L295.94,279.56 L296.55,279.11 L297.17,278.66 L297.78,278.21 L298.40,277.76 L299.02,277.32 L299.64,276.87 L300.26,276.42 L300.88,275.97 L301.51,275.52 L302.13,275.07 L302.76,274.63 L303.39,274.18 L304.02,273.73 L304.65,273.28 L305.29,272.84 L305.92,272.39 L306.56,271.95 L307.20,271.50 L307.84,271.05 L308.48,270.61 L309.12,270.16 L309.77,269.72 L310.41,269.27 L311.06,268.83 L311.71,268.38 L312.36,267.94 L313.01,267.50 L313.67,267.05 L314.32,266.61 L314.98,266.17 L315.64,265.72 L316.30,265.28 L316.96,264.84 L317.62,264.40 L318.29,263.96 L318.95,263.52 L319.62,263.07 L320.29,262.63 L320.96,262.19 L321.63,261.75 L322.31,261.31 L322.98,260.87 L323.66,260.43 L324.34,259.99 L325.02,259.56 L325.70,259.12 L326.38,258.68 L327.07,258.24 L327.75,257.80 L328.44,257.37 L329.13,256.93 L329.82,256.49 L330.51,256.06 L331.21,255.62 L331.90,255.18 L332.60,254.75 L333.30,254.31 L334.00,253.88 L334.70,253.44 L335.40,253.01 L336.10,252.58 L336.81,252.14 L337.52,251.71 L338.23,251.28 L338.94,250.84 L339.65,250.41 L340.36,249.98 L341.08,249.55 L341.80,249.12 L342.51,248.69 L343.23,248.25 L343.96,247.82 L344.68,247.39 L345.40,246.96 L346.13,246.54 L346.86,246.11 L347.59,245.68 L348.32,245.25 L349.05,244.82 L349.78,244.39 L350.52,243.97 L351.25,243.54 L351.99,243.11 L352.73,242.69 L353.47,242.26 L354.22,241.83 L354.96,241.41 L355.71,240.98 L356.45,240.56 L357.20,240.14 L357.95,239.71 L358.71,239.29 L359.46,238.86 L360.21,238.44 L360.97,238.02 L361.73,237.60 L362.49,237.18 L363.25,236.75 L364.01,236.33 L364.78,235.91 L365.54,235.49 L366.31,235.07 L367.08,234.65 L367.85,234.23 L368.62,233.81 L369.40,233.40 L370.17,232.98 L370.95,232.56 L371.73,232.14 L372.51,231.72 L373.29,231.31 L374.07,230.89 L374.86,230.48 L375.64,230.06 L376.43,229.64 L377.22,229.23 L378.01,228.82 L378.80,228.40 L379.59,227.99 L380.39,227.57 L381.19,227.16 L381.98,226.75 L382.78,226.34 L383.32,226.06 L383.85,225.79 L384.39,225.51 L384.92,225.24 L385.46,224.97 L386.00,224.69 L386.54,224.42 L387.08,224.14 L387.62,223.87 L388.16,223.60 L388.70,223.33 L389.24,223.05 L389.78,222.78 L390.32,222.51 L390.87,222.24 L391.41,221.96 L391.96,221.69 L392.50,221.42 L393.05,221.15 L393.59,220.88 L394.14,220.61 L394.69,220.34 L395.24,220.06 L395.79,219.79 L396.34,219.52 L396.89,219.25 L397.44,218.98 L398.00,218.71 L398.55,218.44 L399.10,218.17 L399.66,217.90 L400.21,217.63 L400.77,217.37 L401.32,217.10 L401.88,216.83 L402.44,216.56 L403.00,216.29 L403.56,216.02 L404.12,215.75 L404.68,215.49 L405.24,215.22 L405.80,214.95 L406.36,214.68 L406.93,214.42 L407.49,214.15 L408.06,213.88 L408.62,213.62 L409.19,213.35 L409.75,213.08 L410.32,212.82 L410.89,212.55 L411.46,212.29 L412.03,212.02 L412.60,211.76 L413.17,211.49 L413.74,211.23 L414.31,210.96 L414.89,210.70 L415.46,210.43 L416.03,210.17 L416.61,209.90 L417.19,209.64 L417.76,209.38 L418.34,209.11 L418.92,208.85 L419.50,208.59 L420.07,208.32 L420.65,208.06 L421.23,207.80 L421.82,207.53 L422.40,207.27 L422.98,207.01 L423.56,206.75 L424.15,206.49 L424.73,206.23 L425.32,205.96 L425.90,205.70 L426.49,205.44 L427.08,205.18 L427.66,204.92 L428.25,204.66 L428.84,204.40 L429.43,204.14 L430.02,203.88 L430.61,203.62 L431.21,203.36 L431.80,203.10 L432.39,202.84 L432.99,202.58 L433.58,202.32 L434.18,202.07 L434.77,201.81 L435.37,201.55 L435.97,201.29 L436.57,201.03 L437.17,200.77 L437.76,200.52 L438.37,200.26 L438.97,200.00 L439.57,199.74 L440.17,199.49 L440.77,199.23 L441.38,198.97 L441.98,198.72 L442.59,198.46 L443.19,198.20 L443.80,197.95 L444.41,197.69 L445.01,197.44 L445.62,197.18 L446.23,196.92 L446.84,196.67 L447.45,196.41 L448.06,196.16 L448.67,195.90 L449.29,195.65 L449.90,195.39 L450.51,195.14 L451.13,194.89 L451.74,194.63 L452.36,194.38 L452.98,194.12 L453.59,193.87 L454.21,193.62 L454.83,193.36 L455.45,193.11 L456.07,192.86 L456.69,192.60 L457.31,192.35 L457.93,192.10 L458.56,191.85 L459.18,191.59 L459.80,191.34 L460.43,191.09 L461.06,190.84 L461.68,190.59 L462.31,190.33 L462.94,190.08 L463.56,189.83 L464.19,189.58 L464.82,189.33 L465.45,189.08 L466.08,188.83 L466.72,188.58 L467.35,188.33 L467.98,188.08 L468.61,187.83 L469.25,187.58 L469.88,187.33 L470.52,187.08 L471.16,186.83 L471.79,186.58 L472.43,186.33 L473.07,186.09 L473.71,185.84 L474.35,185.59 L474.99,185.34 L475.63,185.09 L476.27,184.85 L476.92,184.60 L477.56,184.35 L478.20,184.10 L478.85,183.86 L479.49,183.61 L480.14,183.36 L480.79,183.12 L481.43,182.87 L482.08,182.62 L482.73,182.38 L483.38,182.13 L484.03,181.89 L484.68,181.64 L485.33,181.40 L485.98,181.15 L486.64,180.91 L487.29,180.66 L487.94,180.42 L488.60,180.17 L489.26,179.93 L489.91,179.68 L490.57,179.44 L491.23,179.20 L491.88,178.95 L492.54,178.71 L493.20,178.47 L493.86,178.23 L494.52,177.98 L495.19,177.74 L495.85,177.50 L496.51,177.26 L497.18,177.01 L497.84,176.77 L498.51,176.53 L499.17,176.29 L499.84,176.05 L500.50,175.81 L501.17,175.57 L501.84,175.33 L502.51,175.09 L503.18,174.84 L503.85,174.60 L504.52,174.37 L505.19,174.13 L505.87,173.89 L506.54,173.65 L507.21,173.41 L507.89,173.17 L508.56,172.93 L509.24,172.69 L509.92,172.45 L510.59,172.22 L511.27,171.98 L511.95,171.74 L512.63,171.50 L513.31,171.26 L513.99,171.03 L514.67,170.79 L515.36,170.55 L516.04,170.32 L516.72,170.08 L517.41,169.85 L518.09,169.61 L518.78,169.37 L519.46,169.14 L520.15,168.90 L520.84,168.67 L521.53,168.43 L522.22,168.20 L522.91,167.96 L523.60,167.73 L524.29,167.49 L524.98,167.26 L525.67,167.03 L526.36,166.79 L527.06,166.56 L527.75,166.33 L528.45,166.09 L529.14,165.86 L529.84,165.63 L530.54,165.40 L531.24,165.16 L531.93,164.93 L532.63,164.70 L533.33,164.47 L534.03,164.24 L534.74,164.01 L535.44,163.77 L536.14,163.54 L536.84,163.31 L537.55,163.08 L538.25,162.85 L538.96,162.62 L539.66,162.39 L540.37,162.16 L541.08,161.93 L541.79,161.71 L542.49,161.48 L543.20,161.25 L543.91,161.02 L544.63,160.79 L545.34,160.56 L546.05,160.34 L546.76,160.11 L547.48,159.88 L548.19,159.65 L548.91,159.43 L549.62,159.20 L550.34,158.97 L551.05,158.75 L551.77,158.52 L552.49,158.29 L553.21,158.07 L553.93,157.84 L554.65,157.62 L555.37,157.39 L556.09,157.17 L556.82,156.94 L557.54,156.72 L558.26,156.49 L558.99,156.27 L559.71,156.04 L560.44,155.82 L561.16,155.60 L561.89,155.37 L562.62,155.15 L563.35,154.93 L564.08,154.71 L564.81,154.48 L565.54,154.26 L566.27,154.04 L567.00,153.82 L567.74,153.60 L568.47,153.37 L569.20,153.15 L569.94,152.93 L570.67,152.71 L571.41,152.49 L572.15,152.27 L572.88,152.05 L573.62,151.83 L574.36,151.61 L575.10,151.39 L575.84,151.17 L576.58,150.95 L577.32,150.73 L578.07,150.52 L578.81,150.30 L579.55,150.08 L580.30,149.86 L581.04,149.64 L581.79,149.43 L582.53,149.21 L583.28,148.99 L584.03,148.77 L584.78,148.56 L585.53,148.34 L586.28,148.12 L587.03,147.91 L587.78,147.69 L588.53,147.48 L589.28,147.26 L590.04,147.05 L590.79,146.83 L591.54,146.62 L592.30,146.40 L593.06,146.19 L593.81,145.97 L594.57,145.76 L595.33,145.55 L596.09,145.33 L596.85,145.12 L597.61,144.91 L598.37,144.69 L599.13,144.48 L599.89,144.27 L600.65,144.06 L601.42,143.84 L602.18,143.63 L602.94,143.42 L603.71,143.21 L604.48,143.00 L605.24,142.79 L606.01,142.58 L606.78,142.37 L607.55,142.16 L608.32,141.95 L609.09,141.74 L609.86,141.53 L610.63,141.32 L611.40,141.11 L612.18,140.90 L612.95,140.69 L613.72,140.48 L614.50,140.27 L615.28,140.07 L616.05,139.86 L616.83,139.65 L617.61,139.44 L618.39,139.24 L619.16,139.03 L619.94,138.82 L620.73,138.62 L621.51,138.41 L622.29,138.20 L623.07,138.00 L623.85,137.79 L624.64,137.59 L625.42,137.38 L626.21,137.18 L626.99,136.97 L627.78,136.77 L628.57,136.56 L629.36,136.36 L630.15,136.16 L630.93,135.95 L631.72,135.75 L632.52,135.55 L633.31,135.34 L634.10,135.14 L634.89,134.94 L635.69,134.73 L636.48,134.53 L637.27,134.33 L638.07,134.13 L638.87,133.93 L639.66,133.72 L640.46,133.52 L641.26,133.32 L642.06,133.12 L642.86,132.92 L643.66,132.72 L644.46,132.52 L645.26,132.32 L646.06,132.12 L646.87,131.92 L647.67,131.72 L648.47,131.52 L649.28,131.32 L650.09,131.12 L650.89,130.92 L651.70,130.72 L652.51,130.52 L653.32,130.32 L654.13,130.13 L654.94,129.93 L655.75,129.73 L656.56,129.53 L657.37,129.34 L658.18,129.14 L658.99,128.94 L659.81,128.74 L660.62,128.55 L661.44,128.35 L662.26,128.15 L663.07,127.96 L663.89,127.76 L664.71,127.57 L665.53,127.37 L666.35,127.18 L667.17,126.98 L667.99,126.79 L668.81,126.59 L669.63,126.40 L670.45,126.20 L671.28,126.01 L672.10,125.81 L672.93,125.62 L673.75,125.43 L674.58,125.23 L675.41,125.04 L676.23,124.85 L677.06,124.65 L677.89,124.46 L678.72,124.27 L679.55,124.08 L680.38,123.88 L681.21,123.69 L682.05,123.50 L682.88,123.31 L683.71,123.12 L684.55,122.93 L685.38,122.74 L686.22,122.55 L687.05,122.36 L687.89,122.16 L688.73,121.97 L689.57,121.78 L690.41,121.59 L691.25,121.41 L692.09,121.22 L692.93,121.03 L693.77,120.84 L694.61,120.65 L695.46,120.46 L696.30,120.27 L697.15,120.08 L697.99,119.90 L698.84,119.71 L699.69,119.52 L700.53,119.33 L701.38,119.14 L702.23,118.96 L703.08,118.77 L703.93,118.58 L704.78,118.40 L705.63,118.21 L706.48,118.02 L707.34,117.84 L708.19,117.65 L709.05,117.47 L709.90,117.28 L710.76,117.10 L711.61,116.91 L712.47,116.73 L713.33,116.54 L714.19,116.36 L715.04,116.17 L715.90,115.99 L716.76,115.81 L717.63,115.62 L718.49,115.44 L719.35,115.26 L720.21,115.07 L721.08,114.89 L721.94,114.71 L722.81,114.52 L723.67,114.34 L724.54,114.16 L725.41,113.98 L726.27,113.80 L727.14,113.61 L728.01,113.43 L728.88,113.25 L729.75,113.07 L730.62,112.89 L731.50,112.71 L732.37,112.53 L733.24,112.35 L734.12,112.17 L734.99,111.99 L735.87,111.81 L736.74,111.63 L737.62,111.45 L738.50,111.27 L739.38,111.09 L740.26,110.91 L741.13,110.73 L742.01,110.55 L742.90,110.38 L743.78,110.20 L744.66,110.02 L745.54,109.84 L746.43,109.67 L747.31,109.49 L748.20,109.31 L749.08,109.13 L749.97,108.96 L750.86,108.78 L751.74,108.60 L752.63,108.43 L753.52,108.25 L754.41,108.08 L755.30,107.90 L756.19,107.73 L757.08,107.55 L757.98,107.38 L758.87,107.20 L759.76,107.03 L760.66,106.85 L761.55,106.68 L762.45,106.50 L763.35,106.33 L764.24,106.16 L765.14,105.98 L766.04,105.81 L766.94,105.64 L767.84,105.46 L768.74,105.29 L769.64,105.12 L770.54,104.94 L771.45,104.77 L772.35,104.60 L773.25,104.43 L774.16,104.26 L775.06,104.08 L775.97,103.91 L776.88,103.74 L777.79,103.57 L778.69,103.40 L779.60,103.23 L780.51,103.06 L781.42,102.89 L782.33,102.72 L783.25,102.55 L784.16,102.38 L785.07,102.21 L785.98,102.04 L786.90,101.87 L787.81,101.70 L788.73,101.53 L789.65,101.37 L790.56,101.20 L791.48,101.03 L792.40,100.86 L793.32,100.69 L794.24,100.53 L795.16,100.36 L796.08,100.19 L797.00,100.02 L797.92,99.86 L798.85,99.69 L799.77,99.52 L800.70,99.36 L801.62,99.19 L802.55,99.03 L803.47,98.86 L804.40,98.69 L805.33,98.53 L806.26,98.36 L807.19,98.20 L808.12,98.03 L809.05,97.87 L809.98,97.71 L810.91,97.54 L811.85,97.38 L812.78,97.21 L813.71,97.05 L814.65,96.89 L815.58,96.72 L816.52,96.56 L817.46,96.40 L818.40,96.23 L819.33,96.07 L820.27,95.91 L821.21,95.75 L822.15,95.58 L823.09,95.42 L824.04,95.26 L824.98,95.10 L825.92,94.94 L826.86,94.78 L827.81,94.61 L828.75,94.45 L829.70,94.29 L830.65,94.13 L831.59,93.97 L832.54,93.81 L833.49,93.65 L834.44,93.49 L835.39,93.33 L836.34,93.17 L837.29,93.01 L838.24,92.86 L839.20,92.70 L840.15,92.54 L841.10,92.38 L842.06,92.22 L843.01,92.06 L843.97,91.91 L844.93,91.75 L845.88,91.59 L846.84,91.43 L847.80,91.28 L848.76,91.12 L849.72,90.96 L850.68,90.81 L851.64,90.65 L852.60,90.49 L853.57,90.34 L854.53,90.18 L855.50,90.02 L856.46,89.87 L857.43,89.71 L858.39,89.56 L859.36,89.40 L860.33,89.25 L861.30,89.09 L862.26,88.94 L863.23,88.79 L864.20,88.63 L865.18,88.48 L866.15,88.32 L867.12,88.17 L868.09,88.02 L869.07,87.86 L870.04,87.71 L871.02,87.56 L871.99,87.40 L872.97,87.25 L873.95,87.10 L874.92,86.95 L875.90,86.80 L876.88,86.64 L877.86,86.49 L878.84,86.34 L879.82,86.19 L880.81,86.04 L881.79,85.89 L882.77,85.74 L883.76,85.59 L884.74,85.44 L885.73,85.29 L886.71,85.14 L887.70,84.99 L888.69,84.84 L889.67,84.69 L890.66,84.54 L891.65,84.39 L892.64,84.24 L893.63,84.09 L894.63,83.94 L895.62,83.79 L896.61,83.65 L897.60,83.50 L898.60,83.35 L899.59,83.20 L900.59,83.05 L901.59,82.91 L902.58,82.76 L903.58,82.61 L904.58,82.47 L905.58,82.32 L906.58,82.17 L907.58,82.03 L908.58,81.88 L909.58,81.73 L910.58,81.59 L911.59,81.44 L912.59,81.30 L913.60,81.15 L914.60,81.01 L915.61,80.86 L916.61,80.72 L917.62,80.57 L918.63,80.43 L919.64,80.29 L920.65,80.14 L921.66,80.00 L922.67,79.85 L923.68,79.71 L924.69,79.57 L925.70,79.42 L926.72,79.28 L927.73,79.14 L928.75,79.00 L929.76,78.85 L930.78,78.71 L931.79,78.57 L932.81,78.43 L933.83,78.29 L934.85,78.14 L935.87,78.00 L936.89,77.86 L937.91,77.72 L938.93,77.58 L939.95,77.44 L940.98,77.30 L942.00,77.16" stroke="#00ff00" stroke-width="3.15" fill="none" stroke-linejoin="round" stroke-dasharray="10.11,5.06,2.53,5.06"/>
<path d="M275.6,63.00 L360.6,63.00" stroke="#ff0000" stroke-width="3.15" fill="none" stroke-linejoin="round"/>
<path d="M275.6,95.75 L360.6,95.75" stroke="#0000ff" stroke-width="3.15" fill="none" stroke-linejoin="round" stroke-dasharray="6.62,10.58"/>
<path d="M275.6,128.50 L360.6,128.50" stroke="#000000" stroke-width="3.15" fill="none" stroke-linejoin="round" stroke-dasharray="1.32,5.29"/>
<path d="M275.6,161.25 L360.6,161.25" stroke="#00ff00" stroke-width="3.15" fill="none" stroke-linejoin="round" stroke-dasharray="10.58,5.29,2.65,5.29"/>
<g font-family="Liberation Sans, sans-serif" fill="#000" stroke="#000" stroke-width="0.35" style="filter:grayscale(1)">
<text transform="translate(241.37,73.70) scale(0.94,1)" font-size="30.5">0</text>
<rect x="219.77" y="60.20" width="16.8" height="2.3" stroke="none"/><rect x="219.77" y="66.70" width="16.8" height="2.3" stroke="none"/>
<text transform="translate(199.67,73.70) scale(0.88,1)" font-size="30.5" font-style="italic">a</text>
<text transform="translate(214.18,106.45) scale(0.94,1)" font-size="30.5">0</text><text transform="translate(231.76,106.45) scale(0.94,1)" font-size="30.5">.</text><text transform="translate(241.37,106.45) scale(0.94,1)" font-size="30.5">5</text>
<rect x="192.58" y="92.95" width="16.8" height="2.3" stroke="none"/><rect x="192.58" y="99.45" width="16.8" height="2.3" stroke="none"/>
<text transform="translate(172.48,106.45) scale(0.88,1)" font-size="30.5" font-style="italic">a</text>
<path transform="translate(240.27,139.20) scale(0.01392,-0.01392)" d="M254 170h330v1139l-359 -72v184l357 72h202v-1323h330v-170h-860v170z" stroke="none"/>
<rect x="219.77" y="125.70" width="16.8" height="2.3" stroke="none"/><rect x="219.77" y="132.20" width="16.8" height="2.3" stroke="none"/>
<text transform="translate(199.67,139.20) scale(0.88,1)" font-size="30.5" font-style="italic">a</text>
<path transform="translate(213.08,171.95) scale(0.01392,-0.01392)" d="M254 170h330v1139l-359 -72v184l357 72h202v-1323h330v-170h-860v170z" stroke="none"/><text transform="translate(231.76,171.95) scale(0.94,1)" font-size="30.5">.</text><text transform="translate(241.37,171.95) scale(0.94,1)" font-size="30.5">5</text>
<rect x="192.58" y="158.45" width="16.8" height="2.3" stroke="none"/><rect x="192.58" y="164.95" width="16.8" height="2.3" stroke="none"/>
<text transform="translate(172.48,171.95) scale(0.88,1)" font-size="30.5" font-style="italic">a</text>
</g>
<path d="M483.5,221.0 L892.5,221.0 L892.5,458.5 L483.5,458.5 Z" fill="none" stroke="#000" stroke-width="1" opacity="0.68"/>
<path d="M551.67,458.5 v-13 M551.67,221.0 v13 M619.83,458.5 v-13 M619.83,221.0 v13 M688.00,458.5 v-13 M688.00,221.0 v13 M756.17,458.5 v-13 M756.17,221.0 v13 M824.33,458.5 v-13 M824.33,221.0 v13 M483.5,424.57 h13 M892.5,424.57 h-13 M483.5,390.64 h13 M892.5,390.64 h-13 M483.5,356.71 h13 M892.5,356.71 h-13 M483.5,322.79 h13 M892.5,322.79 h-13 M483.5,288.86 h13 M892.5,288.86 h-13 M483.5,254.93 h13 M892.5,254.93 h-13 " stroke="#000" stroke-width="1" fill="none" opacity="0.6"/>
<path d="M483.50,457.1 v2.8 M489.31,457.1 v2.8 M495.13,457.1 v2.8 M500.94,457.1 v2.8 M506.76,457.1 v2.8 M512.58,457.1 v2.8 M518.39,457.1 v2.8 M524.21,457.1 v2.8 M530.02,457.1 v2.8 M535.84,457.1 v2.8 M541.65,457.1 v2.8 M547.47,457.1 v2.8 M553.28,457.1 v2.8 M559.10,457.1 v2.8 M564.91,457.1 v2.8 M570.73,457.1 v2.8 M576.54,457.1 v2.8 M582.36,457.1 v2.8 M588.17,457.1 v2.8 M593.99,457.1 v2.8 M599.80,457.1 v2.8 M605.62,457.1 v2.8 M611.43,457.1 v2.8 M617.25,457.1 v2.8 M623.06,457.1 v2.8 M628.88,457.1 v2.8 M634.69,457.1 v2.8 M640.51,457.1 v2.8 M646.32,457.1 v2.8 M652.14,457.1 v2.8 M657.95,457.1 v2.8 M663.77,457.1 v2.8 M669.58,457.1 v2.8 M675.40,457.1 v2.8 M681.21,457.1 v2.8 M687.03,457.1 v2.8 M692.84,457.1 v2.8 M698.66,457.1 v2.8 M704.47,457.1 v2.8 M710.29,457.1 v2.8 M716.10,457.1 v2.8 M721.92,457.1 v2.8 M727.73,457.1 v2.8 M733.55,457.1 v2.8 M739.36,457.1 v2.8 M745.18,457.1 v2.8 M750.99,457.1 v2.8 M756.81,457.1 v2.8 M762.62,457.1 v2.8 M768.44,457.1 v2.8 M774.25,457.1 v2.8 M780.07,457.1 v2.8 M785.88,457.1 v2.8 M791.70,457.1 v2.8 M797.51,457.1 v2.8 M803.33,457.1 v2.8 M809.14,457.1 v2.8 M814.96,457.1 v2.8 M820.77,457.1 v2.8 M826.59,457.1 v2.8 M832.40,457.1 v2.8 M838.22,457.1 v2.8 M844.03,457.1 v2.8 M849.85,457.1 v2.8 M855.66,457.1 v2.8 M861.48,457.1 v2.8 M867.29,457.1 v2.8 M873.11,457.1 v2.8 M878.92,457.1 v2.8 M884.74,457.1 v2.8 M890.55,457.1 v2.8 M482.1,458.50 h2.8 M482.1,452.69 h2.8 M482.1,446.87 h2.8 M482.1,441.06 h2.8 M482.1,435.24 h2.8 M482.1,429.43 h2.8 M482.1,423.61 h2.8 M482.1,417.80 h2.8 M482.1,411.98 h2.8 M482.1,406.17 h2.8 M482.1,400.35 h2.8 M482.1,394.54 h2.8 M482.1,388.72 h2.8 M482.1,382.91 h2.8 M482.1,377.09 h2.8 M482.1,371.28 h2.8 M482.1,365.46 h2.8 M482.1,359.65 h2.8 M482.1,353.83 h2.8 M482.1,348.02 h2.8 M482.1,342.20 h2.8 M482.1,336.39 h2.8 M482.1,330.57 h2.8 M482.1,324.76 h2.8 M482.1,318.94 h2.8 M482.1,313.13 h2.8 M482.1,307.31 h2.8 M482.1,301.50 h2.8 M482.1,295.68 h2.8 M482.1,289.87 h2.8 M482.1,284.05 h2.8 M482.1,278.24 h2.8 M482.1,272.42 h2.8 M482.1,266.61 h2.8 M482.1,260.79 h2.8 M482.1,254.98 h2.8 M482.1,249.16 h2.8 M482.1,243.35 h2.8 M482.1,237.53 h2.8 M482.1,231.72 h2.8 M482.1,225.90 h2.8 " stroke="#000" stroke-width="1" fill="none" opacity="0.68"/>
<g font-family="Liberation Sans, sans-serif" fill="#000" stroke="#000" stroke-width="0.35" style="filter:grayscale(1)">
<text transform="translate(448.47,470.30) scale(0.94,1)" font-size="30.5">0</text>
<text transform="translate(403.15,436.37) scale(0.94,1)" font-size="30.5">0</text><text transform="translate(420.73,436.37) scale(0.94,1)" font-size="30.5">.</text><text transform="translate(430.34,436.37) scale(0.94,1)" font-size="30.5">0</text><text transform="translate(448.47,436.37) scale(0.94,1)" font-size="30.5">5</text>
<text transform="translate(421.28,402.44) scale(0.94,1)" font-size="30.5">0</text><text transform="translate(438.86,402.44) scale(0.94,1)" font-size="30.5">.</text><path transform="translate(447.37,402.44) scale(0.01392,-0.01392)" d="M254 170h330v1139l-359 -72v184l357 72h202v-1323h330v-170h-860v170z" stroke="none"/>
<text transform="translate(403.15,368.51) scale(0.94,1)" font-size="30.5">0</text><text transform="translate(420.73,368.51) scale(0.94,1)" font-size="30.5">.</text><path transform="translate(429.25,368.51) scale(0.01392,-0.01392)" d="M254 170h330v1139l-359 -72v184l357 72h202v-1323h330v-170h-860v170z" stroke="none"/><text transform="translate(448.47,368.51) scale(0.94,1)" font-size="30.5">5</text>
<text transform="translate(421.28,334.59) scale(0.94,1)" font-size="30.5">0</text><text transform="translate(438.86,334.59) scale(0.94,1)" font-size="30.5">.</text><text transform="translate(448.47,334.59) scale(0.94,1)" font-size="30.5">2</text>
<text transform="translate(403.15,300.66) scale(0.94,1)" font-size="30.5">0</text><text transform="translate(420.73,300.66) scale(0.94,1)" font-size="30.5">.</text><text transform="translate(430.34,300.66) scale(0.94,1)" font-size="30.5">2</text><text transform="translate(448.47,300.66) scale(0.94,1)" font-size="30.5">5</text>
<text transform="translate(421.28,266.73) scale(0.94,1)" font-size="30.5">0</text><text transform="translate(438.86,266.73) scale(0.94,1)" font-size="30.5">.</text><text transform="translate(448.47,266.73) scale(0.94,1)" font-size="30.5">3</text>
<text transform="translate(403.15,232.80) scale(0.94,1)" font-size="30.5">0</text><text transform="translate(420.73,232.80) scale(0.94,1)" font-size="30.5">.</text><text transform="translate(430.34,232.80) scale(0.94,1)" font-size="30.5">3</text><text transform="translate(448.47,232.80) scale(0.94,1)" font-size="30.5">5</text>
<text transform="translate(479.73,502.00) scale(0.94,1)" font-size="30.5">0</text>
<text transform="translate(534.30,502.00) scale(0.94,1)" font-size="30.5">0</text><text transform="translate(551.88,502.00) scale(0.94,1)" font-size="30.5">.</text><text transform="translate(561.49,502.00) scale(0.94,1)" font-size="30.5">5</text>
<path transform="translate(614.97,502.00) scale(0.01392,-0.01392)" d="M254 170h330v1139l-359 -72v184l357 72h202v-1323h330v-170h-860v170z" stroke="none"/>
<path transform="translate(669.54,502.00) scale(0.01392,-0.01392)" d="M254 170h330v1139l-359 -72v184l357 72h202v-1323h330v-170h-860v170z" stroke="none"/><text transform="translate(688.21,502.00) scale(0.94,1)" font-size="30.5">.</text><text transform="translate(697.82,502.00) scale(0.94,1)" font-size="30.5">5</text>
<text transform="translate(752.40,502.00) scale(0.94,1)" font-size="30.5">2</text>
<text transform="translate(806.97,502.00) scale(0.94,1)" font-size="30.5">2</text><text transform="translate(824.55,502.00) scale(0.94,1)" font-size="30.5">.</text><text transform="translate(834.16,502.00) scale(0.94,1)" font-size="30.5">5</text>
<text transform="translate(888.73,502.00) scale(0.94,1)" font-size="30.5">3</text>
</g>
<path d="M483.50,458.50 L483.56,457.88 L483.59,457.22 L483.62,456.58 L483.65,455.92 L483.69,455.26 L483.74,454.58 L483.78,453.91 L483.84,453.24 L483.89,452.56 L483.95,451.89 L484.02,451.22 L484.09,450.56 L484.17,449.90 L484.25,449.25 L484.33,448.59 L484.42,447.95 L484.51,447.31 L484.61,446.67 L484.71,446.04 L484.81,445.41 L484.92,444.79 L485.04,444.17 L485.16,443.56 L485.28,442.95 L485.41,442.34 L485.54,441.74 L485.68,441.14 L485.82,440.54 L485.97,439.95 L486.12,439.36 L486.27,438.77 L486.43,438.19 L486.62,437.54 L486.82,436.90 L487.01,436.26 L487.22,435.63 L487.43,435.00 L487.65,434.38 L487.87,433.75 L488.10,433.13 L488.33,432.51 L488.57,431.88 L488.82,431.26 L489.07,430.63 L489.33,430.01 L489.59,429.38 L489.83,428.82 L490.07,428.27 L490.31,427.71 L490.56,427.16 L490.81,426.60 L491.07,426.05 L491.33,425.49 L491.60,424.94 L491.87,424.39 L492.14,423.85 L492.42,423.30 L492.71,422.76 L493.00,422.21 L493.29,421.67 L493.59,421.13 L493.89,420.59 L494.20,420.05 L494.51,419.51 L494.82,418.97 L495.14,418.44 L495.47,417.90 L495.80,417.37 L496.13,416.83 L496.47,416.30 L496.81,415.77 L497.16,415.24 L497.51,414.71 L497.86,414.18 L498.22,413.65 L498.59,413.13 L498.96,412.60 L499.33,412.07 L499.71,411.55 L500.09,411.02 L500.48,410.50 L500.87,409.98 L501.26,409.46 L501.66,408.93 L502.07,408.41 L502.48,407.89 L502.89,407.37 L503.31,406.85 L503.73,406.33 L504.16,405.82 L504.59,405.30 L505.03,404.78 L505.47,404.26 L505.91,403.75 L506.36,403.23 L506.81,402.72 L507.27,402.20 L507.73,401.69 L508.20,401.17 L508.67,400.66 L509.15,400.15 L509.56,399.71 L509.97,399.27 L510.39,398.83 L510.81,398.39 L511.24,397.95 L511.67,397.52 L512.10,397.08 L512.53,396.64 L512.97,396.20 L513.41,395.77 L513.85,395.33 L514.30,394.90 L514.75,394.46 L515.21,394.02 L515.66,393.59 L516.12,393.15 L516.59,392.72 L517.05,392.28 L517.53,391.85 L518.00,391.41 L518.48,390.98 L518.96,390.55 L519.44,390.11 L519.93,389.68 L520.42,389.24 L520.91,388.81 L521.41,388.38 L521.91,387.95 L522.41,387.51 L522.92,387.08 L523.43,386.65 L523.94,386.22 L524.45,385.79 L524.97,385.35 L525.50,384.92 L526.02,384.49 L526.55,384.06 L527.08,383.62 L527.62,383.19 L528.16,382.76 L528.70,382.32 L529.25,381.89 L529.80,381.46 L530.35,381.02 L530.90,380.59 L531.46,380.16 L532.03,379.72 L532.59,379.29 L533.16,378.85 L533.73,378.42 L534.21,378.06 L534.69,377.69 L535.18,377.33 L535.66,376.97 L536.15,376.61 L536.64,376.25 L537.13,375.88 L537.63,375.52 L538.13,375.16 L538.62,374.80 L539.13,374.43 L539.63,374.07 L540.14,373.71 L540.65,373.35 L541.16,372.98 L541.67,372.62 L542.18,372.26 L542.70,371.90 L543.22,371.53 L543.75,371.17 L544.27,370.81 L544.80,370.45 L545.33,370.09 L545.86,369.72 L546.39,369.36 L546.93,369.00 L547.46,368.64 L548.01,368.27 L548.55,367.91 L549.09,367.55 L549.64,367.19 L550.19,366.83 L550.74,366.46 L551.30,366.10 L551.85,365.74 L552.41,365.38 L552.97,365.02 L553.53,364.66 L554.10,364.30 L554.67,363.93 L555.24,363.57 L555.81,363.21 L556.38,362.85 L556.96,362.49 L557.54,362.13 L558.12,361.77 L558.71,361.41 L559.29,361.05 L559.88,360.69 L560.47,360.32 L561.06,359.96 L561.66,359.60 L562.26,359.24 L562.86,358.88 L563.46,358.52 L564.06,358.16 L564.67,357.80 L565.28,357.44 L565.89,357.08 L566.50,356.72 L567.12,356.36 L567.73,356.01 L568.35,355.65 L568.98,355.29 L569.60,354.93 L570.23,354.57 L570.86,354.21 L571.49,353.85 L572.12,353.49 L572.76,353.13 L573.40,352.78 L574.04,352.42 L574.68,352.06 L575.32,351.70 L575.97,351.34 L576.62,350.99 L577.27,350.63 L577.93,350.27 L578.58,349.91 L579.24,349.56 L579.77,349.27 L580.30,348.98 L580.83,348.70 L581.37,348.41 L581.90,348.13 L582.44,347.84 L582.97,347.56 L583.51,347.27 L584.05,346.99 L584.59,346.70 L585.14,346.42 L585.68,346.13 L586.23,345.85 L586.78,345.56 L587.32,345.28 L587.87,344.99 L588.43,344.71 L588.98,344.42 L589.53,344.14 L590.09,343.85 L590.65,343.57 L591.21,343.28 L591.77,343.00 L592.33,342.71 L592.89,342.42 L593.46,342.14 L594.03,341.85 L594.59,341.57 L595.16,341.28 L595.73,341.00 L596.31,340.71 L596.88,340.43 L597.45,340.14 L598.03,339.86 L598.61,339.57 L599.19,339.29 L599.77,339.00 L600.35,338.72 L600.94,338.43 L601.52,338.15 L602.11,337.86 L602.70,337.58 L603.29,337.29 L603.88,337.01 L604.47,336.72 L605.06,336.44 L605.66,336.15 L606.26,335.87 L606.86,335.58 L607.46,335.30 L608.06,335.01 L608.66,334.73 L609.26,334.44 L609.87,334.16 L610.48,333.87 L611.09,333.59 L611.70,333.30 L612.31,333.02 L612.92,332.73 L613.53,332.45 L614.15,332.16 L614.77,331.88 L615.39,331.60 L616.01,331.31 L616.63,331.03 L617.25,330.74 L617.88,330.46 L618.50,330.18 L619.13,329.89 L619.76,329.61 L620.39,329.32 L621.02,329.04 L621.65,328.76 L622.29,328.47 L622.93,328.19 L623.56,327.91 L624.20,327.62 L624.84,327.34 L625.49,327.06 L626.13,326.77 L626.77,326.49 L627.42,326.21 L628.07,325.92 L628.72,325.64 L629.37,325.36 L630.02,325.08 L630.67,324.79 L631.33,324.51 L631.99,324.23 L632.64,323.95 L633.30,323.66 L633.97,323.38 L634.63,323.10 L635.29,322.82 L635.96,322.53 L636.62,322.25 L637.29,321.97 L637.96,321.69 L638.63,321.41 L639.31,321.13 L639.98,320.84 L640.66,320.56 L641.33,320.28 L642.01,320.00 L642.69,319.72 L643.37,319.44 L644.06,319.16 L644.74,318.88 L645.43,318.60 L646.11,318.32 L646.80,318.04 L647.49,317.76 L648.18,317.48 L648.88,317.20 L649.57,316.92 L650.27,316.64 L650.96,316.36 L651.66,316.08 L652.36,315.80 L653.06,315.52 L653.77,315.24 L654.47,314.96 L655.18,314.68 L655.89,314.40 L656.60,314.12 L657.31,313.84 L658.02,313.56 L658.73,313.29 L659.45,313.01 L660.16,312.73 L660.88,312.45 L661.60,312.17 L662.32,311.89 L663.04,311.62 L663.77,311.34 L664.49,311.06 L665.22,310.78 L665.95,310.51 L666.67,310.23 L667.41,309.95 L668.14,309.68 L668.87,309.40 L669.61,309.12 L670.34,308.84 L671.08,308.57 L671.82,308.29 L672.56,308.02 L673.30,307.74 L674.05,307.46 L674.79,307.19 L675.54,306.91 L676.29,306.64 L677.04,306.36 L677.60,306.15 L678.17,305.95 L678.73,305.74 L679.30,305.53 L679.86,305.33 L680.43,305.12 L681.00,304.91 L681.57,304.71 L682.14,304.50 L682.71,304.29 L683.28,304.09 L683.85,303.88 L684.43,303.67 L685.00,303.47 L685.57,303.26 L686.15,303.05 L686.73,302.85 L687.30,302.64 L687.88,302.44 L688.46,302.23 L689.04,302.02 L689.62,301.82 L690.20,301.61 L690.78,301.41 L691.37,301.20 L691.95,300.99 L692.54,300.79 L693.12,300.58 L693.71,300.38 L694.29,300.17 L694.88,299.96 L695.47,299.76 L696.06,299.55 L696.65,299.35 L697.24,299.14 L697.83,298.93 L698.43,298.73 L699.02,298.52 L699.61,298.32 L700.21,298.11 L700.81,297.91 L701.40,297.70 L702.00,297.50 L702.60,297.29 L703.20,297.08 L703.80,296.88 L704.40,296.67 L705.00,296.47 L705.60,296.26 L706.21,296.06 L706.81,295.85 L707.42,295.65 L708.02,295.44 L708.63,295.24 L709.24,295.03 L709.84,294.83 L710.45,294.62 L711.06,294.42 L711.67,294.21 L712.29,294.01 L712.90,293.80 L713.51,293.60 L714.13,293.39 L714.74,293.19 L715.36,292.98 L715.97,292.78 L716.59,292.57 L717.21,292.37 L717.83,292.17 L718.45,291.96 L719.07,291.76 L719.69,291.55 L720.31,291.35 L720.93,291.14 L721.56,290.94 L722.18,290.73 L722.81,290.53 L723.43,290.33 L724.06,290.12 L724.69,289.92 L725.32,289.71 L725.95,289.51 L726.58,289.31 L727.21,289.10 L727.84,288.90 L728.47,288.69 L729.11,288.49 L729.74,288.29 L730.38,288.08 L731.01,287.88 L731.65,287.67 L732.29,287.47 L732.93,287.27 L733.57,287.06 L734.21,286.86 L734.85,286.66 L735.49,286.45 L736.13,286.25 L736.78,286.04 L737.42,285.84 L738.07,285.64 L738.71,285.43 L739.36,285.23 L740.01,285.03 L740.65,284.82 L741.30,284.62 L741.95,284.42 L742.60,284.21 L743.26,284.01 L743.91,283.81 L744.56,283.61 L745.22,283.40 L745.87,283.20 L746.53,283.00 L747.18,282.79 L747.84,282.59 L748.50,282.39 L749.16,282.18 L749.82,281.98 L750.48,281.78 L751.14,281.58 L751.80,281.37 L752.47,281.17 L753.13,280.97 L753.79,280.77 L754.46,280.56 L755.13,280.36 L755.79,280.16 L756.46,279.96 L757.13,279.75 L757.80,279.55 L758.47,279.35 L759.14,279.15 L759.81,278.94 L760.49,278.74 L761.16,278.54 L761.84,278.34 L762.51,278.14 L763.19,277.93 L763.87,277.73 L764.54,277.53 L765.22,277.33 L765.90,277.13 L766.58,276.92 L767.26,276.72 L767.94,276.52 L768.63,276.32 L769.31,276.12 L770.00,275.92 L770.68,275.71 L771.37,275.51 L772.05,275.31 L772.74,275.11 L773.43,274.91 L774.12,274.71 L774.81,274.51 L775.50,274.30 L776.19,274.10 L776.88,273.90 L777.58,273.70 L778.27,273.50 L778.97,273.30 L779.66,273.10 L780.36,272.90 L781.06,272.70 L781.76,272.49 L782.46,272.29 L783.16,272.09 L783.86,271.89 L784.56,271.69 L785.26,271.49 L785.96,271.29 L786.67,271.09 L787.37,270.89 L788.08,270.69 L788.78,270.49 L789.49,270.29 L790.20,270.09 L790.91,269.88 L791.62,269.68 L792.33,269.48 L793.04,269.28 L793.75,269.08 L794.47,268.88 L795.18,268.68 L795.90,268.48 L796.61,268.28 L797.33,268.08 L798.04,267.88 L798.76,267.68 L799.48,267.48 L800.20,267.28 L800.92,267.08 L801.64,266.88 L802.36,266.68 L803.09,266.48 L803.81,266.28 L804.54,266.08 L805.26,265.88 L805.99,265.68 L806.71,265.48 L807.44,265.28 L808.17,265.08 L808.90,264.89 L809.63,264.69 L810.36,264.49 L811.09,264.29 L811.83,264.09 L812.56,263.89 L813.29,263.69 L814.03,263.49 L814.77,263.29 L815.50,263.09 L816.24,262.89 L816.98,262.69 L817.72,262.49 L818.46,262.30 L819.20,262.10 L819.94,261.90 L820.68,261.70 L821.43,261.50 L822.17,261.30 L822.92,261.10 L823.66,260.90 L824.41,260.71 L825.16,260.51 L825.90,260.31 L826.65,260.11 L827.40,259.91 L828.15,259.71 L828.91,259.51 L829.66,259.32 L830.41,259.12 L831.16,258.92 L831.92,258.72 L832.68,258.52 L833.43,258.32 L834.19,258.13 L834.95,257.93 L835.71,257.73 L836.47,257.53 L837.23,257.33 L837.99,257.14 L838.75,256.94 L839.51,256.74 L840.28,256.54 L841.04,256.35 L841.81,256.15 L842.57,255.95 L843.34,255.75 L844.11,255.55 L844.88,255.36 L845.65,255.16 L846.42,254.96 L847.19,254.76 L847.96,254.57 L848.73,254.37 L849.51,254.17 L850.28,253.98 L851.06,253.78 L851.83,253.58 L852.61,253.38 L853.39,253.19 L854.17,252.99 L854.95,252.79 L855.73,252.60 L856.51,252.40 L857.29,252.20 L858.07,252.01 L858.85,251.81 L859.64,251.61 L860.42,251.42 L861.21,251.22 L862.00,251.02 L862.78,250.83 L863.57,250.63 L864.36,250.43 L865.15,250.24 L865.94,250.04 L866.73,249.85 L867.53,249.65 L868.32,249.45 L869.11,249.26 L869.91,249.06 L870.70,248.87 L871.50,248.67 L872.30,248.48 L873.10,248.28 L873.90,248.09 L874.70,247.89 L875.50,247.70 L876.30,247.50 L877.10,247.31 L877.90,247.11 L878.71,246.92 L879.51,246.72 L880.32,246.53 L881.12,246.33 L881.93,246.14 L882.74,245.94 L883.55,245.75 L884.36,245.56 L885.17,245.36 L885.98,245.17 L886.79,244.97 L887.61,244.78 L888.42,244.59 L889.23,244.39 L890.05,244.20 L890.87,244.01 L891.68,243.81 L892.50,243.62" stroke="#ff0000" stroke-width="3.15" fill="none" stroke-linejoin="round"/>
<path d="M551.67,336.07 L551.67,336.70 L551.70,337.32 L551.73,337.94 L551.79,338.54 L551.86,339.17 L551.95,339.78 L552.05,340.37 L552.19,340.98 L552.34,341.56 L552.52,342.15 L552.74,342.73 L552.98,343.28 L553.26,343.82 L553.59,344.35 L553.96,344.84 L554.37,345.29 L554.83,345.70 L555.33,346.06 L555.87,346.36 L556.44,346.61 L557.02,346.80 L557.61,346.94 L558.22,347.03 L558.84,347.09 L559.44,347.11 L560.07,347.10 L560.69,347.07 L561.29,347.01 L561.91,346.94 L562.51,346.85 L563.13,346.74 L563.72,346.62 L564.33,346.49 L564.95,346.35 L565.54,346.20 L566.14,346.04 L566.76,345.87 L567.33,345.71 L567.92,345.53 L568.53,345.35 L569.14,345.15 L569.76,344.95 L570.34,344.76 L570.93,344.56 L571.53,344.36 L572.14,344.15 L572.76,343.93 L573.33,343.73 L573.90,343.52 L574.49,343.31 L575.08,343.09 L575.68,342.87 L576.29,342.64 L576.90,342.41 L577.52,342.17 L578.09,341.96 L578.66,341.74 L579.24,341.52 L579.82,341.29 L580.42,341.06 L581.01,340.83 L581.62,340.60 L582.23,340.36 L582.84,340.12 L583.46,339.87 L584.09,339.63 L584.65,339.41 L585.22,339.18 L585.80,338.96 L586.37,338.73 L586.96,338.50 L587.54,338.26 L588.14,338.03 L588.73,337.79 L589.34,337.55 L589.94,337.31 L590.55,337.07 L591.17,336.82 L591.79,336.57 L592.42,336.32 L593.05,336.07 L593.69,335.82 L594.25,335.60 L594.81,335.37 L595.38,335.15 L595.95,334.92 L596.53,334.69 L597.10,334.46 L597.69,334.23 L598.27,333.99 L598.86,333.76 L599.46,333.52 L600.06,333.28 L600.66,333.05 L601.26,332.81 L601.87,332.56 L602.48,332.32 L603.10,332.08 L603.72,331.83 L604.34,331.59 L604.97,331.34 L605.60,331.09 L606.24,330.84 L606.87,330.59 L607.52,330.34 L608.16,330.08 L608.81,329.83 L609.37,329.61 L609.93,329.39 L610.50,329.16 L611.07,328.94 L611.64,328.72 L612.21,328.50 L612.79,328.27 L613.37,328.05 L613.95,327.82 L614.53,327.59 L615.12,327.36 L615.71,327.13 L616.30,326.90 L616.90,326.67 L617.50,326.44 L618.10,326.21 L618.70,325.98 L619.31,325.74 L619.92,325.51 L620.53,325.27 L621.14,325.04 L621.76,324.80 L622.38,324.56 L623.00,324.32 L623.63,324.08 L624.25,323.84 L624.88,323.60 L625.52,323.36 L626.15,323.12 L626.79,322.88 L627.44,322.63 L628.08,322.39 L628.73,322.14 L629.38,321.90 L630.03,321.65 L630.68,321.40 L631.34,321.15 L632.00,320.90 L632.67,320.65 L633.33,320.40 L634.00,320.15 L634.67,319.90 L635.35,319.65 L635.91,319.44 L636.48,319.23 L637.05,319.01 L637.62,318.80 L638.19,318.59 L638.76,318.37 L639.34,318.16 L639.91,317.95 L640.49,317.73 L641.07,317.52 L641.66,317.30 L642.24,317.08 L642.83,316.87 L643.42,316.65 L644.01,316.43 L644.60,316.21 L645.19,316.00 L645.79,315.78 L646.39,315.56 L646.99,315.34 L647.59,315.12 L648.20,314.90 L648.80,314.67 L649.41,314.45 L650.02,314.23 L650.63,314.01 L651.24,313.78 L651.86,313.56 L652.48,313.34 L653.09,313.11 L653.72,312.89 L654.34,312.66 L654.96,312.44 L655.59,312.21 L656.22,311.99 L656.85,311.76 L657.48,311.53 L658.11,311.30 L658.75,311.08 L659.39,310.85 L660.03,310.62 L660.67,310.39 L661.31,310.16 L661.96,309.93 L662.61,309.70 L663.26,309.47 L663.91,309.24 L664.56,309.01 L665.22,308.78 L665.87,308.54 L666.53,308.31 L667.19,308.08 L667.85,307.85 L668.52,307.61 L669.19,307.38 L669.85,307.14 L670.52,306.91 L671.20,306.67 L671.87,306.44 L672.55,306.20 L673.22,305.97 L673.90,305.73 L674.58,305.49 L675.27,305.26 L675.95,305.02 L676.64,304.78 L677.33,304.54 L678.02,304.31 L678.71,304.07 L679.41,303.83 L680.11,303.59 L680.80,303.35 L681.50,303.11 L682.21,302.87 L682.91,302.63 L683.62,302.38 L684.33,302.14 L685.04,301.90 L685.60,301.71 L686.18,301.51 L686.75,301.32 L687.32,301.12 L687.89,300.93 L688.47,300.73 L689.05,300.54 L689.62,300.34 L690.20,300.15 L690.78,299.95 L691.37,299.76 L691.95,299.56 L692.53,299.36 L693.12,299.17 L693.70,298.97 L694.29,298.77 L694.88,298.57 L695.47,298.38 L696.06,298.18 L696.65,297.98 L697.25,297.78 L697.84,297.59 L698.44,297.39 L699.03,297.19 L699.63,296.99 L700.23,296.79 L700.83,296.59 L701.44,296.39 L702.04,296.19 L702.64,295.99 L703.25,295.79 L703.86,295.59 L704.46,295.39 L705.07,295.19 L705.68,294.99 L706.30,294.79 L706.91,294.59 L707.52,294.39 L708.14,294.19 L708.76,293.98 L709.37,293.78 L709.99,293.58 L710.61,293.38 L711.23,293.18 L711.86,292.97 L712.48,292.77 L713.11,292.57 L713.73,292.37 L714.36,292.16 L714.99,291.96 L715.62,291.76 L716.25,291.55 L716.88,291.35 L717.52,291.14 L718.15,290.94 L718.79,290.74 L719.42,290.53 L720.06,290.33 L720.70,290.12 L721.34,289.92 L721.98,289.71 L722.63,289.51 L723.27,289.30 L723.92,289.10 L724.57,288.89 L725.21,288.69 L725.86,288.48 L726.51,288.27 L727.17,288.07 L727.82,287.86 L728.47,287.65 L729.13,287.45 L729.78,287.24 L730.44,287.03 L731.10,286.83 L731.76,286.62 L732.42,286.41 L733.09,286.21 L733.75,286.00 L734.42,285.79 L735.08,285.58 L735.75,285.38 L736.42,285.17 L737.09,284.96 L737.76,284.75 L738.43,284.54 L739.11,284.33 L739.78,284.13 L740.46,283.92 L741.13,283.71 L741.81,283.50 L742.49,283.29 L743.17,283.08 L743.85,282.87 L744.54,282.66 L745.22,282.45 L745.91,282.24 L746.60,282.03 L747.28,281.82 L747.97,281.61 L748.66,281.40 L749.36,281.19 L750.05,280.98 L750.74,280.77 L751.44,280.56 L752.13,280.35 L752.83,280.14 L753.53,279.93 L754.23,279.72 L754.93,279.51 L755.64,279.30 L756.34,279.09 L757.05,278.87 L757.75,278.66 L758.46,278.45 L759.17,278.24 L759.88,278.03 L760.59,277.82 L761.30,277.60 L762.02,277.39 L762.73,277.18 L763.45,276.97 L764.16,276.76 L764.88,276.54 L765.60,276.33 L766.32,276.12 L767.04,275.91 L767.77,275.69 L768.49,275.48 L769.22,275.27 L769.95,275.05 L770.67,274.84 L771.40,274.63 L772.13,274.42 L772.87,274.20 L773.60,273.99 L774.33,273.78 L775.07,273.56 L775.81,273.35 L776.54,273.13 L777.28,272.92 L778.02,272.71 L778.76,272.49 L779.51,272.28 L780.25,272.07 L781.00,271.85 L781.74,271.64 L782.49,271.42 L783.24,271.21 L783.99,270.99 L784.74,270.78 L785.49,270.57 L786.25,270.35 L787.00,270.14 L787.76,269.92 L788.51,269.71 L789.27,269.49 L790.03,269.28 L790.79,269.06 L791.56,268.85 L792.32,268.63 L793.08,268.42 L793.85,268.20 L794.62,267.99 L795.38,267.77 L796.15,267.56 L796.73,267.40 L797.31,267.23 L797.89,267.07 L798.47,266.91 L799.05,266.75 L799.63,266.59 L800.21,266.43 L800.80,266.26 L801.38,266.10 L801.96,265.94 L802.55,265.78 L803.13,265.62 L803.72,265.46 L804.31,265.29 L804.89,265.13 L805.48,264.97 L806.07,264.81 L806.66,264.65 L807.25,264.48 L807.84,264.32 L808.43,264.16 L809.02,264.00 L809.62,263.84 L810.21,263.68 L810.81,263.51 L811.40,263.35 L812.00,263.19 L812.59,263.03 L813.19,262.87 L813.79,262.70 L814.39,262.54 L814.98,262.38 L815.58,262.22 L816.18,262.06 L816.79,261.89 L817.39,261.73 L817.99,261.57 L818.59,261.41 L819.20,261.24 L819.80,261.08 L820.41,260.92 L821.01,260.76 L821.62,260.60 L822.23,260.43 L822.83,260.27 L823.44,260.11 L824.05,259.95 L824.66,259.79 L825.27,259.62 L825.88,259.46 L826.50,259.30 L827.11,259.14 L827.72,258.97 L828.34,258.81 L828.95,258.65 L829.57,258.49 L830.18,258.33 L830.80,258.16 L831.42,258.00 L832.03,257.84 L832.65,257.68 L833.27,257.52 L833.89,257.35 L834.51,257.19 L835.13,257.03 L835.76,256.87 L836.38,256.71 L837.00,256.54 L837.63,256.38 L838.25,256.22 L838.88,256.06 L839.50,255.90 L840.13,255.73 L840.76,255.57 L841.39,255.41 L842.02,255.25 L842.65,255.09 L843.28,254.93 L843.91,254.76 L844.54,254.60 L845.17,254.44 L845.80,254.28 L846.44,254.12 L847.07,253.95 L847.71,253.79 L848.34,253.63 L848.98,253.47 L849.62,253.31 L850.26,253.15 L850.89,252.99 L851.53,252.82 L852.17,252.66 L852.81,252.50 L853.46,252.34 L854.10,252.18 L854.74,252.02 L855.38,251.86 L856.03,251.70 L856.67,251.53 L857.32,251.37 L857.96,251.21 L858.61,251.05 L859.26,250.89 L859.91,250.73 L860.55,250.57 L861.20,250.41 L861.85,250.25 L862.51,250.09 L863.16,249.93 L863.81,249.77 L864.46,249.60 L865.12,249.44 L865.77,249.28 L866.42,249.12 L867.08,248.96 L867.74,248.80 L868.39,248.64 L869.05,248.48 L869.71,248.33 L870.37,248.17 L871.03,248.01 L871.69,247.85 L872.35,247.69 L873.01,247.53 L873.67,247.37 L874.34,247.21 L875.00,247.05 L875.67,246.89 L876.33,246.73 L877.00,246.57 L877.66,246.42 L878.33,246.26 L879.00,246.10 L879.67,245.94 L880.34,245.78 L881.01,245.62 L881.68,245.47 L882.35,245.31 L883.02,245.15 L883.69,244.99 L884.37,244.83 L885.04,244.68 L885.72,244.52 L886.39,244.36 L887.07,244.20 L887.74,244.05 L888.42,243.89 L889.10,243.73 L889.78,243.57 L890.46,243.42 L891.14,243.26 L891.82,243.10 L892.50,242.95" stroke="#0000ff" stroke-width="3.15" fill="none" stroke-linejoin="round" stroke-dasharray="6.62,10.58"/>
<path d="M619.83,285.22 L619.84,285.88 L619.85,286.52 L619.86,287.14 L619.88,287.79 L619.92,288.43 L619.95,289.04 L620.00,289.68 L620.06,290.30 L620.14,290.94 L620.22,291.56 L620.32,292.20 L620.44,292.81 L620.57,293.43 L620.72,294.02 L620.89,294.62 L621.08,295.20 L621.30,295.77 L621.55,296.35 L621.82,296.89 L622.13,297.43 L622.45,297.93 L622.82,298.42 L623.22,298.89 L623.65,299.34 L624.12,299.75 L624.61,300.14 L625.13,300.49 L625.65,300.80 L626.19,301.08 L626.76,301.34 L627.32,301.57 L627.91,301.77 L628.51,301.95 L629.10,302.11 L629.72,302.25 L630.32,302.36 L630.93,302.46 L631.52,302.55 L632.13,302.62 L632.76,302.68 L633.36,302.72 L633.98,302.76 L634.60,302.78 L635.25,302.80 L635.86,302.81 L636.48,302.80 L637.11,302.80 L637.71,302.78 L638.33,302.76 L638.95,302.73 L639.58,302.69 L640.22,302.65 L640.82,302.61 L641.43,302.56 L642.05,302.50 L642.67,302.44 L643.31,302.38 L643.96,302.31 L644.55,302.24 L645.16,302.16 L645.77,302.09 L646.39,302.01 L647.02,301.92 L647.66,301.83 L648.30,301.74 L648.95,301.64 L649.55,301.55 L650.15,301.45 L650.76,301.35 L651.37,301.25 L652.00,301.15 L652.62,301.04 L653.26,300.93 L653.90,300.81 L654.54,300.69 L655.19,300.57 L655.79,300.46 L656.38,300.35 L656.98,300.23 L657.59,300.11 L658.20,299.99 L658.82,299.87 L659.44,299.74 L660.07,299.61 L660.70,299.48 L661.33,299.35 L661.97,299.21 L662.62,299.08 L663.27,298.94 L663.93,298.79 L664.51,298.67 L665.10,298.54 L665.70,298.40 L666.30,298.27 L666.90,298.13 L667.51,298.00 L668.12,297.86 L668.73,297.72 L669.35,297.57 L669.97,297.43 L670.60,297.28 L671.23,297.14 L671.86,296.99 L672.50,296.84 L673.14,296.68 L673.78,296.53 L674.43,296.37 L675.09,296.22 L675.74,296.06 L676.40,295.89 L677.07,295.73 L677.65,295.59 L678.24,295.44 L678.83,295.30 L679.42,295.15 L680.02,295.00 L680.62,294.85 L681.22,294.70 L681.83,294.55 L682.44,294.39 L683.05,294.24 L683.66,294.08 L684.28,293.92 L684.90,293.77 L685.52,293.61 L686.15,293.44 L686.78,293.28 L687.41,293.12 L688.05,292.95 L688.68,292.79 L689.32,292.62 L689.97,292.45 L690.62,292.28 L691.27,292.11 L691.92,291.94 L692.57,291.77 L693.23,291.60 L693.90,291.42 L694.56,291.24 L695.23,291.07 L695.90,290.89 L696.57,290.71 L697.15,290.56 L697.73,290.40 L698.32,290.24 L698.91,290.09 L699.49,289.93 L700.09,289.77 L700.68,289.61 L701.27,289.45 L701.87,289.29 L702.47,289.13 L703.07,288.97 L703.68,288.80 L704.28,288.64 L704.89,288.48 L705.50,288.31 L706.11,288.14 L706.73,287.98 L707.34,287.81 L707.96,287.64 L708.59,287.47 L709.21,287.30 L709.83,287.13 L710.46,286.96 L711.09,286.79 L711.73,286.62 L712.36,286.44 L713.00,286.27 L713.64,286.09 L714.28,285.92 L714.92,285.74 L715.56,285.57 L716.21,285.39 L716.86,285.21 L717.51,285.03 L718.17,284.85 L718.82,284.67 L719.48,284.49 L720.14,284.31 L720.81,284.13 L721.47,283.95 L722.14,283.76 L722.81,283.58 L723.48,283.39 L724.15,283.21 L724.83,283.02 L725.51,282.84 L726.19,282.65 L726.87,282.46 L727.55,282.27 L728.24,282.08 L728.93,281.89 L729.62,281.70 L730.32,281.51 L730.89,281.35 L731.48,281.19 L732.06,281.03 L732.64,280.87 L733.23,280.71 L733.81,280.55 L734.40,280.39 L734.99,280.22 L735.59,280.06 L736.18,279.90 L736.77,279.74 L737.37,279.57 L737.97,279.41 L738.57,279.24 L739.17,279.08 L739.77,278.91 L740.37,278.75 L740.98,278.58 L741.58,278.41 L742.19,278.25 L742.80,278.08 L743.41,277.91 L744.03,277.74 L744.64,277.58 L745.26,277.41 L745.87,277.24 L746.49,277.07 L747.11,276.90 L747.74,276.73 L748.36,276.56 L748.98,276.39 L749.61,276.22 L750.24,276.04 L750.87,275.87 L751.50,275.70 L752.13,275.53 L752.77,275.36 L753.40,275.18 L754.04,275.01 L754.68,274.83 L755.32,274.66 L755.96,274.49 L756.60,274.31 L757.25,274.14 L757.89,273.96 L758.54,273.78 L759.19,273.61 L759.84,273.43 L760.49,273.26 L761.15,273.08 L761.80,272.90 L762.46,272.72 L763.12,272.55 L763.78,272.37 L764.44,272.19 L765.10,272.01 L765.77,271.83 L766.43,271.65 L767.10,271.47 L767.77,271.29 L768.44,271.11 L769.11,270.93 L769.78,270.75 L770.46,270.57 L771.14,270.39 L771.81,270.21 L772.49,270.02 L773.17,269.84 L773.86,269.66 L774.54,269.48 L775.23,269.29 L775.91,269.11 L776.60,268.93 L777.29,268.74 L777.98,268.56 L778.68,268.38 L779.37,268.19 L780.07,268.01 L780.77,267.82 L781.47,267.64 L782.17,267.45 L782.87,267.27 L783.57,267.08 L784.28,266.89 L784.98,266.71 L785.69,266.52 L786.40,266.33 L787.11,266.15 L787.83,265.96 L788.54,265.77 L789.26,265.58 L789.97,265.40 L790.69,265.21 L791.41,265.02 L792.14,264.83 L792.86,264.64 L793.58,264.45 L794.17,264.30 L794.75,264.15 L795.33,264.00 L795.91,263.85 L796.50,263.69 L797.09,263.54 L797.67,263.39 L798.26,263.24 L798.85,263.09 L799.44,262.93 L800.03,262.78 L800.62,262.63 L801.21,262.48 L801.81,262.32 L802.40,262.17 L803.00,262.02 L803.60,261.86 L804.19,261.71 L804.79,261.56 L805.39,261.40 L805.99,261.25 L806.59,261.09 L807.20,260.94 L807.80,260.79 L808.40,260.63 L809.01,260.48 L809.61,260.32 L810.22,260.17 L810.83,260.01 L811.44,259.86 L812.05,259.71 L812.66,259.55 L813.27,259.40 L813.89,259.24 L814.50,259.09 L815.12,258.93 L815.73,258.77 L816.35,258.62 L816.97,258.46 L817.59,258.31 L818.21,258.15 L818.83,258.00 L819.45,257.84 L820.07,257.68 L820.69,257.53 L821.32,257.37 L821.95,257.22 L822.57,257.06 L823.20,256.90 L823.83,256.75 L824.46,256.59 L825.09,256.43 L825.72,256.28 L826.35,256.12 L826.99,255.96 L827.62,255.81 L828.26,255.65 L828.89,255.49 L829.53,255.33 L830.17,255.18 L830.81,255.02 L831.45,254.86 L832.09,254.71 L832.73,254.55 L833.37,254.39 L834.02,254.23 L834.66,254.07 L835.31,253.92 L835.96,253.76 L836.60,253.60 L837.25,253.44 L837.90,253.29 L838.55,253.13 L839.21,252.97 L839.86,252.81 L840.51,252.65 L841.17,252.49 L841.82,252.34 L842.48,252.18 L843.14,252.02 L843.80,251.86 L844.46,251.70 L845.12,251.54 L845.78,251.38 L846.44,251.23 L847.11,251.07 L847.77,250.91 L848.44,250.75 L849.10,250.59 L849.77,250.43 L850.44,250.27 L851.11,250.11 L851.78,249.95 L852.45,249.80 L853.12,249.64 L853.79,249.48 L854.47,249.32 L855.14,249.16 L855.82,249.00 L856.50,248.84 L857.18,248.68 L857.85,248.52 L858.53,248.36 L859.22,248.20 L859.90,248.04 L860.58,247.88 L861.26,247.72 L861.95,247.57 L862.64,247.41 L863.32,247.25 L864.01,247.09 L864.70,246.93 L865.39,246.77 L866.08,246.61 L866.77,246.45 L867.46,246.29 L868.16,246.13 L868.85,245.97 L869.55,245.81 L870.24,245.65 L870.94,245.49 L871.64,245.34 L872.34,245.18 L873.04,245.02 L873.74,244.86 L874.44,244.70 L875.15,244.54 L875.85,244.38 L876.56,244.22 L877.26,244.06 L877.97,243.90 L878.68,243.74 L879.39,243.58 L880.10,243.43 L880.81,243.27 L881.52,243.11 L882.23,242.95 L882.95,242.79 L883.66,242.63 L884.38,242.47 L885.10,242.31 L885.81,242.15 L886.53,242.00 L887.25,241.84 L887.97,241.68 L888.69,241.52 L889.42,241.36 L890.14,241.20 L890.87,241.04 L891.59,240.88 L892.32,240.73 L892.50,240.69" stroke="#000000" stroke-width="3.15" fill="none" stroke-linejoin="round" stroke-dasharray="1.32,5.29"/>
<path d="M688.00,250.84 L688.01,251.47 L688.02,252.08 L688.05,252.72 L688.09,253.34 L688.14,253.95 L688.21,254.57 L688.29,255.18 L688.38,255.78 L688.49,256.39 L688.62,256.98 L688.77,257.59 L688.94,258.18 L689.12,258.75 L689.33,259.33 L689.56,259.90 L689.82,260.47 L690.10,261.02 L690.40,261.55 L690.72,262.06 L691.08,262.57 L691.46,263.06 L691.86,263.54 L692.28,263.99 L692.73,264.42 L693.20,264.84 L693.66,265.22 L694.15,265.58 L694.65,265.92 L695.18,266.25 L695.70,266.55 L696.24,266.84 L696.80,267.11 L697.37,267.37 L697.93,267.60 L698.51,267.82 L699.11,268.03 L699.69,268.21 L700.28,268.39 L700.89,268.56 L701.48,268.70 L702.08,268.84 L702.70,268.97 L703.29,269.09 L703.89,269.19 L704.51,269.29 L705.13,269.38 L705.73,269.46 L706.34,269.54 L706.95,269.60 L707.58,269.66 L708.22,269.72 L708.82,269.76 L709.44,269.80 L710.06,269.84 L710.69,269.87 L711.33,269.89 L711.94,269.91 L712.55,269.92 L713.16,269.93 L713.79,269.94 L714.42,269.94 L715.06,269.93 L715.71,269.93 L716.32,269.91 L716.93,269.90 L717.55,269.88 L718.17,269.86 L718.81,269.83 L719.45,269.81 L720.09,269.77 L720.74,269.74 L721.34,269.70 L721.95,269.66 L722.57,269.62 L723.19,269.58 L723.81,269.53 L724.44,269.48 L725.08,269.43 L725.72,269.38 L726.37,269.32 L727.02,269.26 L727.62,269.20 L728.22,269.14 L728.83,269.08 L729.44,269.02 L730.06,268.95 L730.68,268.88 L731.30,268.81 L731.93,268.74 L732.57,268.67 L733.20,268.59 L733.85,268.51 L734.50,268.43 L735.15,268.35 L735.81,268.26 L736.40,268.19 L737.00,268.11 L737.60,268.03 L738.21,267.94 L738.82,267.86 L739.43,267.77 L740.05,267.68 L740.67,267.60 L741.30,267.51 L741.92,267.41 L742.56,267.32 L743.19,267.22 L743.83,267.13 L744.47,267.03 L745.12,266.93 L745.77,266.83 L746.43,266.72 L747.08,266.62 L747.75,266.51 L748.41,266.40 L749.01,266.31 L749.60,266.21 L750.20,266.11 L750.81,266.01 L751.41,265.91 L752.02,265.81 L752.63,265.70 L753.25,265.60 L753.87,265.49 L754.49,265.38 L755.11,265.28 L755.74,265.17 L756.37,265.06 L757.00,264.94 L757.63,264.83 L758.27,264.72 L758.91,264.60 L759.56,264.49 L760.20,264.37 L760.85,264.25 L761.51,264.13 L762.16,264.01 L762.82,263.89 L763.48,263.77 L764.15,263.65 L764.81,263.52 L765.48,263.40 L766.16,263.27 L766.75,263.16 L767.34,263.05 L767.94,262.93 L768.53,262.82 L769.13,262.70 L769.74,262.59 L770.34,262.47 L770.95,262.36 L771.56,262.24 L772.17,262.12 L772.78,262.00 L773.40,261.88 L774.02,261.76 L774.64,261.64 L775.26,261.52 L775.88,261.39 L776.51,261.27 L777.14,261.15 L777.77,261.02 L778.40,260.89 L779.04,260.77 L779.68,260.64 L780.32,260.51 L780.96,260.38 L781.61,260.26 L782.25,260.13 L782.90,259.99 L783.55,259.86 L784.21,259.73 L784.86,259.60 L785.52,259.47 L786.18,259.33 L786.84,259.20 L787.51,259.06 L788.18,258.92 L788.85,258.79 L789.52,258.65 L790.19,258.51 L790.87,258.37 L791.55,258.23 L792.23,258.09 L792.91,257.95 L793.59,257.81 L794.18,257.69 L794.77,257.57 L795.36,257.45 L795.96,257.32 L796.55,257.20 L797.15,257.08 L797.75,256.95 L798.35,256.83 L798.95,256.70 L799.55,256.57 L800.16,256.45 L800.77,256.32 L801.38,256.19 L801.99,256.07 L802.60,255.94 L803.21,255.81 L803.83,255.68 L804.44,255.55 L805.06,255.42 L805.68,255.29 L806.30,255.16 L806.92,255.03 L807.55,254.90 L808.18,254.77 L808.80,254.63 L809.43,254.50 L810.07,254.37 L810.70,254.23 L811.33,254.10 L811.97,253.97 L812.61,253.83 L813.25,253.70 L813.89,253.56 L814.53,253.42 L815.18,253.29 L815.82,253.15 L816.47,253.01 L817.12,252.88 L817.77,252.74 L818.42,252.60 L819.08,252.46 L819.73,252.32 L820.39,252.18 L821.05,252.04 L821.71,251.90 L822.37,251.76 L823.04,251.62 L823.70,251.48 L824.37,251.33 L825.04,251.19 L825.71,251.05 L826.38,250.91 L827.06,250.76 L827.73,250.62 L828.41,250.47 L829.09,250.33 L829.77,250.18 L830.45,250.04 L831.13,249.89 L831.82,249.75 L832.51,249.60 L833.19,249.45 L833.89,249.31 L834.58,249.16 L835.27,249.01 L835.97,248.86 L836.66,248.71 L837.36,248.56 L838.06,248.42 L838.76,248.27 L839.47,248.12 L840.05,247.99 L840.64,247.86 L841.23,247.74 L841.82,247.61 L842.41,247.49 L843.01,247.36 L843.60,247.23 L844.20,247.11 L844.79,246.98 L845.39,246.85 L845.99,246.72 L846.59,246.60 L847.19,246.47 L847.79,246.34 L848.40,246.21 L849.00,246.08 L849.61,245.95 L850.21,245.83 L850.82,245.70 L851.43,245.57 L852.04,245.44 L852.65,245.31 L853.26,245.18 L853.88,245.05 L854.49,244.92 L855.11,244.78 L855.73,244.65 L856.34,244.52 L856.96,244.39 L857.58,244.26 L858.21,244.13 L858.83,243.99 L859.45,243.86 L860.08,243.73 L860.70,243.60 L861.33,243.46 L861.96,243.33 L862.59,243.20 L863.22,243.06 L863.85,242.93 L864.48,242.80 L865.12,242.66 L865.75,242.53 L866.39,242.40 L867.03,242.26 L867.66,242.13 L868.30,241.99 L868.94,241.86 L869.59,241.72 L870.23,241.59 L870.87,241.45 L871.52,241.32 L872.17,241.18 L872.81,241.04 L873.46,240.91 L874.11,240.77 L874.76,240.64 L875.42,240.50 L876.07,240.36 L876.72,240.23 L877.38,240.09 L878.04,239.95 L878.69,239.81 L879.35,239.68 L880.01,239.54 L880.67,239.40 L881.34,239.26 L882.00,239.13 L882.67,238.99 L883.33,238.85 L884.00,238.71 L884.67,238.57 L885.34,238.43 L886.01,238.29 L886.68,238.16 L887.35,238.02 L888.02,237.88 L888.70,237.74 L889.38,237.60 L890.05,237.46 L890.73,237.32 L891.41,237.18 L892.09,237.04 L892.50,236.95" stroke="#00ff00" stroke-width="3.15" fill="none" stroke-linejoin="round" stroke-dasharray="10.58,5.29,2.65,5.29"/>
<g font-family="Liberation Sans, sans-serif" fill="#000" stroke="#000" stroke-width="0.35" style="filter:grayscale(1)">
<text transform="translate(41.8,300.8) rotate(-90) scale(1.10,1)" font-size="29.1">&#958;</text>
<text transform="translate(30.8,287.5) rotate(-90) scale(0.96,1)" font-size="23.6">&#952;</text>
</g>
</svg>
</body></html>
